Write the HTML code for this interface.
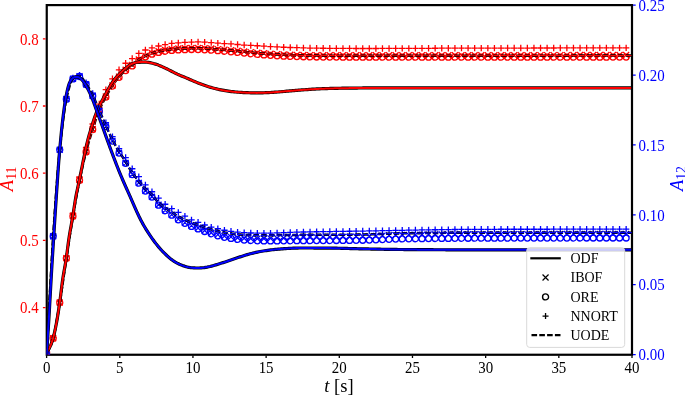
<!DOCTYPE html>
<html><head><meta charset="utf-8"><style>
html,body{margin:0;padding:0;background:#fff;}
body{width:685px;height:397px;overflow:hidden;font-family:"Liberation Serif",serif;}
svg{position:absolute;left:0;top:0;display:block;will-change:transform;}
</style></head><body>
<svg width="685" height="397" viewBox="0 0 685 397">
<defs><clipPath id="ax"><rect x="46.6" y="5.2" width="585.4" height="349.40000000000003"/></clipPath></defs>
<rect x="46.75" y="5.1" width="585.25" height="349.65" fill="none" stroke="#000" stroke-width="2.2"/>
<g clip-path="url(#ax)">
<path d="M43.60,349.39l6.00,6.00M43.60,355.39l6.00,-6.00 M50.19,335.29l6.00,6.00M50.19,341.29l6.00,-6.00 M56.77,299.55l6.00,6.00M56.77,305.55l6.00,-6.00 M63.36,255.10l6.00,6.00M63.36,261.10l6.00,-6.00 M69.94,213.00l6.00,6.00M69.94,219.00l6.00,-6.00 M76.53,177.06l6.00,6.00M76.53,183.06l6.00,-6.00 M83.11,148.58l6.00,6.00M83.11,154.58l6.00,-6.00 M89.70,126.07l6.00,6.00M89.70,132.07l6.00,-6.00 M96.29,107.03l6.00,6.00M96.29,113.03l6.00,-6.00 M102.87,93.54l6.00,6.00M102.87,99.54l6.00,-6.00 M109.46,82.50l6.00,6.00M109.46,88.50l6.00,-6.00 M116.04,73.64l6.00,6.00M116.04,79.64l6.00,-6.00 M122.63,66.79l6.00,6.00M122.63,72.79l6.00,-6.00 M129.21,62.08l6.00,6.00M129.21,68.08l6.00,-6.00 M135.80,56.44l6.00,6.00M135.80,62.44l6.00,-6.00 M142.39,52.86l6.00,6.00M142.39,58.86l6.00,-6.00 M148.97,50.13l6.00,6.00M148.97,56.13l6.00,-6.00 M155.56,48.27l6.00,6.00M155.56,54.27l6.00,-6.00 M162.14,47.03l6.00,6.00M162.14,53.03l6.00,-6.00 M168.73,46.17l6.00,6.00M168.73,52.17l6.00,-6.00 M175.31,45.52l6.00,6.00M175.31,51.52l6.00,-6.00 M181.90,45.19l6.00,6.00M181.90,51.19l6.00,-6.00 M188.49,44.99l6.00,6.00M188.49,50.99l6.00,-6.00 M195.07,44.99l6.00,6.00M195.07,50.99l6.00,-6.00 M201.66,45.18l6.00,6.00M201.66,51.18l6.00,-6.00 M208.24,45.58l6.00,6.00M208.24,51.58l6.00,-6.00 M214.83,46.10l6.00,6.00M214.83,52.10l6.00,-6.00 M221.42,46.63l6.00,6.00M221.42,52.63l6.00,-6.00 M228.00,47.20l6.00,6.00M228.00,53.20l6.00,-6.00 M234.59,47.79l6.00,6.00M234.59,53.79l6.00,-6.00 M241.17,48.44l6.00,6.00M241.17,54.44l6.00,-6.00 M247.76,49.11l6.00,6.00M247.76,55.11l6.00,-6.00 M254.34,49.71l6.00,6.00M254.34,55.71l6.00,-6.00 M260.93,50.20l6.00,6.00M260.93,56.20l6.00,-6.00 M267.52,50.67l6.00,6.00M267.52,56.67l6.00,-6.00 M274.10,51.10l6.00,6.00M274.10,57.10l6.00,-6.00 M280.69,51.45l6.00,6.00M280.69,57.45l6.00,-6.00 M287.27,51.68l6.00,6.00M287.27,57.68l6.00,-6.00 M293.86,51.85l6.00,6.00M293.86,57.85l6.00,-6.00 M300.44,52.00l6.00,6.00M300.44,58.00l6.00,-6.00 M307.03,52.13l6.00,6.00M307.03,58.13l6.00,-6.00 M313.62,52.23l6.00,6.00M313.62,58.23l6.00,-6.00 M320.20,52.29l6.00,6.00M320.20,58.29l6.00,-6.00 M326.79,52.32l6.00,6.00M326.79,58.32l6.00,-6.00 M333.37,52.32l6.00,6.00M333.37,58.32l6.00,-6.00 M339.96,52.32l6.00,6.00M339.96,58.32l6.00,-6.00 M346.54,52.32l6.00,6.00M346.54,58.32l6.00,-6.00 M353.13,52.32l6.00,6.00M353.13,58.32l6.00,-6.00 M359.72,52.32l6.00,6.00M359.72,58.32l6.00,-6.00 M366.30,52.32l6.00,6.00M366.30,58.32l6.00,-6.00 M372.89,52.32l6.00,6.00M372.89,58.32l6.00,-6.00 M379.47,52.32l6.00,6.00M379.47,58.32l6.00,-6.00 M386.06,52.32l6.00,6.00M386.06,58.32l6.00,-6.00 M392.64,52.32l6.00,6.00M392.64,58.32l6.00,-6.00 M399.23,52.32l6.00,6.00M399.23,58.32l6.00,-6.00 M405.82,52.32l6.00,6.00M405.82,58.32l6.00,-6.00 M412.40,52.32l6.00,6.00M412.40,58.32l6.00,-6.00 M418.99,52.32l6.00,6.00M418.99,58.32l6.00,-6.00 M425.57,52.31l6.00,6.00M425.57,58.31l6.00,-6.00 M432.16,52.31l6.00,6.00M432.16,58.31l6.00,-6.00 M438.75,52.31l6.00,6.00M438.75,58.31l6.00,-6.00 M445.33,52.30l6.00,6.00M445.33,58.30l6.00,-6.00 M451.92,52.29l6.00,6.00M451.92,58.29l6.00,-6.00 M458.50,52.29l6.00,6.00M458.50,58.29l6.00,-6.00 M465.09,52.28l6.00,6.00M465.09,58.28l6.00,-6.00 M471.67,52.27l6.00,6.00M471.67,58.27l6.00,-6.00 M478.26,52.26l6.00,6.00M478.26,58.26l6.00,-6.00 M484.85,52.25l6.00,6.00M484.85,58.25l6.00,-6.00 M491.43,52.24l6.00,6.00M491.43,58.24l6.00,-6.00 M498.02,52.23l6.00,6.00M498.02,58.23l6.00,-6.00 M504.60,52.22l6.00,6.00M504.60,58.22l6.00,-6.00 M511.19,52.21l6.00,6.00M511.19,58.21l6.00,-6.00 M517.77,52.20l6.00,6.00M517.77,58.20l6.00,-6.00 M524.36,52.18l6.00,6.00M524.36,58.18l6.00,-6.00 M530.95,52.17l6.00,6.00M530.95,58.17l6.00,-6.00 M537.53,52.15l6.00,6.00M537.53,58.15l6.00,-6.00 M544.12,52.14l6.00,6.00M544.12,58.14l6.00,-6.00 M550.70,52.12l6.00,6.00M550.70,58.12l6.00,-6.00 M557.29,52.11l6.00,6.00M557.29,58.11l6.00,-6.00 M563.87,52.09l6.00,6.00M563.87,58.09l6.00,-6.00 M570.46,52.07l6.00,6.00M570.46,58.07l6.00,-6.00 M577.05,52.06l6.00,6.00M577.05,58.06l6.00,-6.00 M583.63,52.04l6.00,6.00M583.63,58.04l6.00,-6.00 M590.22,52.02l6.00,6.00M590.22,58.02l6.00,-6.00 M596.80,52.00l6.00,6.00M596.80,58.00l6.00,-6.00 M603.39,51.98l6.00,6.00M603.39,57.98l6.00,-6.00 M609.97,51.96l6.00,6.00M609.97,57.96l6.00,-6.00 M616.56,51.94l6.00,6.00M616.56,57.94l6.00,-6.00 M623.15,51.92l6.00,6.00M623.15,57.92l6.00,-6.00" fill="none" stroke="#ff0000" stroke-width="1.3"/>
<path d="M43.60,352.40a3.0,3.0 0 1,0 6.00,0a3.0,3.0 0 1,0 -6.00,0 M50.19,338.35a3.0,3.0 0 1,0 6.00,0a3.0,3.0 0 1,0 -6.00,0 M56.77,302.67a3.0,3.0 0 1,0 6.00,0a3.0,3.0 0 1,0 -6.00,0 M63.36,258.28a3.0,3.0 0 1,0 6.00,0a3.0,3.0 0 1,0 -6.00,0 M69.94,216.25a3.0,3.0 0 1,0 6.00,0a3.0,3.0 0 1,0 -6.00,0 M76.53,180.36a3.0,3.0 0 1,0 6.00,0a3.0,3.0 0 1,0 -6.00,0 M83.11,151.94a3.0,3.0 0 1,0 6.00,0a3.0,3.0 0 1,0 -6.00,0 M89.70,129.50a3.0,3.0 0 1,0 6.00,0a3.0,3.0 0 1,0 -6.00,0 M96.29,110.53a3.0,3.0 0 1,0 6.00,0a3.0,3.0 0 1,0 -6.00,0 M102.87,97.12a3.0,3.0 0 1,0 6.00,0a3.0,3.0 0 1,0 -6.00,0 M109.46,86.14a3.0,3.0 0 1,0 6.00,0a3.0,3.0 0 1,0 -6.00,0 M116.04,77.36a3.0,3.0 0 1,0 6.00,0a3.0,3.0 0 1,0 -6.00,0 M122.63,70.58a3.0,3.0 0 1,0 6.00,0a3.0,3.0 0 1,0 -6.00,0 M129.21,65.94a3.0,3.0 0 1,0 6.00,0a3.0,3.0 0 1,0 -6.00,0 M135.80,60.37a3.0,3.0 0 1,0 6.00,0a3.0,3.0 0 1,0 -6.00,0 M142.39,56.87a3.0,3.0 0 1,0 6.00,0a3.0,3.0 0 1,0 -6.00,0 M148.97,54.21a3.0,3.0 0 1,0 6.00,0a3.0,3.0 0 1,0 -6.00,0 M155.56,52.42a3.0,3.0 0 1,0 6.00,0a3.0,3.0 0 1,0 -6.00,0 M162.14,51.25a3.0,3.0 0 1,0 6.00,0a3.0,3.0 0 1,0 -6.00,0 M168.73,50.46a3.0,3.0 0 1,0 6.00,0a3.0,3.0 0 1,0 -6.00,0 M175.31,49.88a3.0,3.0 0 1,0 6.00,0a3.0,3.0 0 1,0 -6.00,0 M181.90,49.65a3.0,3.0 0 1,0 6.00,0a3.0,3.0 0 1,0 -6.00,0 M188.49,49.52a3.0,3.0 0 1,0 6.00,0a3.0,3.0 0 1,0 -6.00,0 M195.07,49.54a3.0,3.0 0 1,0 6.00,0a3.0,3.0 0 1,0 -6.00,0 M201.66,49.79a3.0,3.0 0 1,0 6.00,0a3.0,3.0 0 1,0 -6.00,0 M208.24,50.20a3.0,3.0 0 1,0 6.00,0a3.0,3.0 0 1,0 -6.00,0 M214.83,50.72a3.0,3.0 0 1,0 6.00,0a3.0,3.0 0 1,0 -6.00,0 M221.42,51.26a3.0,3.0 0 1,0 6.00,0a3.0,3.0 0 1,0 -6.00,0 M228.00,51.84a3.0,3.0 0 1,0 6.00,0a3.0,3.0 0 1,0 -6.00,0 M234.59,52.44a3.0,3.0 0 1,0 6.00,0a3.0,3.0 0 1,0 -6.00,0 M241.17,53.10a3.0,3.0 0 1,0 6.00,0a3.0,3.0 0 1,0 -6.00,0 M247.76,53.78a3.0,3.0 0 1,0 6.00,0a3.0,3.0 0 1,0 -6.00,0 M254.34,54.39a3.0,3.0 0 1,0 6.00,0a3.0,3.0 0 1,0 -6.00,0 M260.93,54.89a3.0,3.0 0 1,0 6.00,0a3.0,3.0 0 1,0 -6.00,0 M267.52,55.37a3.0,3.0 0 1,0 6.00,0a3.0,3.0 0 1,0 -6.00,0 M274.10,55.81a3.0,3.0 0 1,0 6.00,0a3.0,3.0 0 1,0 -6.00,0 M280.69,56.16a3.0,3.0 0 1,0 6.00,0a3.0,3.0 0 1,0 -6.00,0 M287.27,56.41a3.0,3.0 0 1,0 6.00,0a3.0,3.0 0 1,0 -6.00,0 M293.86,56.58a3.0,3.0 0 1,0 6.00,0a3.0,3.0 0 1,0 -6.00,0 M300.44,56.74a3.0,3.0 0 1,0 6.00,0a3.0,3.0 0 1,0 -6.00,0 M307.03,56.88a3.0,3.0 0 1,0 6.00,0a3.0,3.0 0 1,0 -6.00,0 M313.62,56.98a3.0,3.0 0 1,0 6.00,0a3.0,3.0 0 1,0 -6.00,0 M320.20,57.06a3.0,3.0 0 1,0 6.00,0a3.0,3.0 0 1,0 -6.00,0 M326.79,57.10a3.0,3.0 0 1,0 6.00,0a3.0,3.0 0 1,0 -6.00,0 M333.37,57.12a3.0,3.0 0 1,0 6.00,0a3.0,3.0 0 1,0 -6.00,0 M339.96,57.13a3.0,3.0 0 1,0 6.00,0a3.0,3.0 0 1,0 -6.00,0 M346.54,57.15a3.0,3.0 0 1,0 6.00,0a3.0,3.0 0 1,0 -6.00,0 M353.13,57.16a3.0,3.0 0 1,0 6.00,0a3.0,3.0 0 1,0 -6.00,0 M359.72,57.17a3.0,3.0 0 1,0 6.00,0a3.0,3.0 0 1,0 -6.00,0 M366.30,57.18a3.0,3.0 0 1,0 6.00,0a3.0,3.0 0 1,0 -6.00,0 M372.89,57.19a3.0,3.0 0 1,0 6.00,0a3.0,3.0 0 1,0 -6.00,0 M379.47,57.19a3.0,3.0 0 1,0 6.00,0a3.0,3.0 0 1,0 -6.00,0 M386.06,57.20a3.0,3.0 0 1,0 6.00,0a3.0,3.0 0 1,0 -6.00,0 M392.64,57.20a3.0,3.0 0 1,0 6.00,0a3.0,3.0 0 1,0 -6.00,0 M399.23,57.20a3.0,3.0 0 1,0 6.00,0a3.0,3.0 0 1,0 -6.00,0 M405.82,57.20a3.0,3.0 0 1,0 6.00,0a3.0,3.0 0 1,0 -6.00,0 M412.40,57.20a3.0,3.0 0 1,0 6.00,0a3.0,3.0 0 1,0 -6.00,0 M418.99,57.20a3.0,3.0 0 1,0 6.00,0a3.0,3.0 0 1,0 -6.00,0 M425.57,57.20a3.0,3.0 0 1,0 6.00,0a3.0,3.0 0 1,0 -6.00,0 M432.16,57.20a3.0,3.0 0 1,0 6.00,0a3.0,3.0 0 1,0 -6.00,0 M438.75,57.20a3.0,3.0 0 1,0 6.00,0a3.0,3.0 0 1,0 -6.00,0 M445.33,57.20a3.0,3.0 0 1,0 6.00,0a3.0,3.0 0 1,0 -6.00,0 M451.92,57.20a3.0,3.0 0 1,0 6.00,0a3.0,3.0 0 1,0 -6.00,0 M458.50,57.20a3.0,3.0 0 1,0 6.00,0a3.0,3.0 0 1,0 -6.00,0 M465.09,57.20a3.0,3.0 0 1,0 6.00,0a3.0,3.0 0 1,0 -6.00,0 M471.67,57.20a3.0,3.0 0 1,0 6.00,0a3.0,3.0 0 1,0 -6.00,0 M478.26,57.20a3.0,3.0 0 1,0 6.00,0a3.0,3.0 0 1,0 -6.00,0 M484.85,57.19a3.0,3.0 0 1,0 6.00,0a3.0,3.0 0 1,0 -6.00,0 M491.43,57.19a3.0,3.0 0 1,0 6.00,0a3.0,3.0 0 1,0 -6.00,0 M498.02,57.19a3.0,3.0 0 1,0 6.00,0a3.0,3.0 0 1,0 -6.00,0 M504.60,57.19a3.0,3.0 0 1,0 6.00,0a3.0,3.0 0 1,0 -6.00,0 M511.19,57.19a3.0,3.0 0 1,0 6.00,0a3.0,3.0 0 1,0 -6.00,0 M517.77,57.19a3.0,3.0 0 1,0 6.00,0a3.0,3.0 0 1,0 -6.00,0 M524.36,57.18a3.0,3.0 0 1,0 6.00,0a3.0,3.0 0 1,0 -6.00,0 M530.95,57.18a3.0,3.0 0 1,0 6.00,0a3.0,3.0 0 1,0 -6.00,0 M537.53,57.18a3.0,3.0 0 1,0 6.00,0a3.0,3.0 0 1,0 -6.00,0 M544.12,57.17a3.0,3.0 0 1,0 6.00,0a3.0,3.0 0 1,0 -6.00,0 M550.70,57.17a3.0,3.0 0 1,0 6.00,0a3.0,3.0 0 1,0 -6.00,0 M557.29,57.17a3.0,3.0 0 1,0 6.00,0a3.0,3.0 0 1,0 -6.00,0 M563.87,57.16a3.0,3.0 0 1,0 6.00,0a3.0,3.0 0 1,0 -6.00,0 M570.46,57.16a3.0,3.0 0 1,0 6.00,0a3.0,3.0 0 1,0 -6.00,0 M577.05,57.15a3.0,3.0 0 1,0 6.00,0a3.0,3.0 0 1,0 -6.00,0 M583.63,57.15a3.0,3.0 0 1,0 6.00,0a3.0,3.0 0 1,0 -6.00,0 M590.22,57.14a3.0,3.0 0 1,0 6.00,0a3.0,3.0 0 1,0 -6.00,0 M596.80,57.14a3.0,3.0 0 1,0 6.00,0a3.0,3.0 0 1,0 -6.00,0 M603.39,57.13a3.0,3.0 0 1,0 6.00,0a3.0,3.0 0 1,0 -6.00,0 M609.97,57.12a3.0,3.0 0 1,0 6.00,0a3.0,3.0 0 1,0 -6.00,0 M616.56,57.12a3.0,3.0 0 1,0 6.00,0a3.0,3.0 0 1,0 -6.00,0 M623.15,57.11a3.0,3.0 0 1,0 6.00,0a3.0,3.0 0 1,0 -6.00,0" fill="none" stroke="#ff0000" stroke-width="1.3"/>
<path d="M43.40,352.40h6.40M46.60,349.20v6.40 M49.99,337.55h6.40M53.19,334.35v6.40 M56.57,301.17h6.40M59.77,297.97v6.40 M63.16,256.29h6.40M66.36,253.09v6.40 M69.74,213.24h6.40M72.94,210.04v6.40 M76.33,176.86h6.40M79.53,173.66v6.40 M82.91,147.44h6.40M86.11,144.24v6.40 M89.50,124.00h6.40M92.70,120.80v6.40 M96.09,104.04h6.40M99.29,100.84v6.40 M102.67,89.65h6.40M105.87,86.45v6.40 M109.26,78.78h6.40M112.46,75.58v6.40 M115.84,69.79h6.40M119.04,66.59v6.40 M122.43,63.23h6.40M125.63,60.03v6.40 M129.01,58.54h6.40M132.21,55.34v6.40 M135.60,53.47h6.40M138.80,50.27v6.40 M142.19,49.99h6.40M145.39,46.79v6.40 M148.77,47.95h6.40M151.97,44.75v6.40 M155.36,45.98h6.40M158.56,42.78v6.40 M161.94,44.53h6.40M165.14,41.33v6.40 M168.53,43.45h6.40M171.73,40.25v6.40 M175.12,42.87h6.40M178.31,39.67v6.40 M181.70,42.29h6.40M184.90,39.09v6.40 M188.29,42.10h6.40M191.49,38.90v6.40 M194.87,41.95h6.40M198.07,38.75v6.40 M201.46,42.11h6.40M204.66,38.91v6.40 M208.04,42.63h6.40M211.24,39.43v6.40 M214.63,43.11h6.40M217.83,39.91v6.40 M221.22,43.53h6.40M224.42,40.33v6.40 M227.80,43.97h6.40M231.00,40.77v6.40 M234.39,44.52h6.40M237.59,41.32v6.40 M240.97,45.05h6.40M244.17,41.85v6.40 M247.56,45.43h6.40M250.76,42.23v6.40 M254.14,45.76h6.40M257.34,42.56v6.40 M260.73,46.13h6.40M263.93,42.93v6.40 M267.32,46.53h6.40M270.52,43.33v6.40 M273.90,46.93h6.40M277.10,43.73v6.40 M280.49,47.25h6.40M283.69,44.05v6.40 M287.07,47.48h6.40M290.27,44.28v6.40 M293.66,47.70h6.40M296.86,44.50v6.40 M300.24,47.88h6.40M303.44,44.68v6.40 M306.83,48.04h6.40M310.03,44.84v6.40 M313.42,48.16h6.40M316.62,44.96v6.40 M320.00,48.23h6.40M323.20,45.03v6.40 M326.59,48.30h6.40M329.79,45.10v6.40 M333.17,48.36h6.40M336.37,45.16v6.40 M339.76,48.41h6.40M342.96,45.21v6.40 M346.34,48.46h6.40M349.54,45.26v6.40 M352.93,48.48h6.40M356.13,45.28v6.40 M359.52,48.50h6.40M362.72,45.30v6.40 M366.10,48.50h6.40M369.30,45.30v6.40 M372.69,48.49h6.40M375.89,45.29v6.40 M379.27,48.47h6.40M382.47,45.27v6.40 M385.86,48.45h6.40M389.06,45.25v6.40 M392.44,48.43h6.40M395.64,45.23v6.40 M399.03,48.40h6.40M402.23,45.20v6.40 M405.62,48.37h6.40M408.82,45.17v6.40 M412.20,48.34h6.40M415.40,45.14v6.40 M418.79,48.31h6.40M421.99,45.11v6.40 M425.37,48.28h6.40M428.57,45.08v6.40 M431.96,48.25h6.40M435.16,45.05v6.40 M438.55,48.22h6.40M441.75,45.02v6.40 M445.13,48.20h6.40M448.33,45.00v6.40 M451.72,48.19h6.40M454.92,44.99v6.40 M458.30,48.17h6.40M461.50,44.97v6.40 M464.89,48.16h6.40M468.09,44.96v6.40 M471.47,48.14h6.40M474.67,44.94v6.40 M478.06,48.13h6.40M481.26,44.93v6.40 M484.65,48.11h6.40M487.85,44.91v6.40 M491.23,48.10h6.40M494.43,44.90v6.40 M497.82,48.08h6.40M501.02,44.88v6.40 M504.40,48.07h6.40M507.60,44.87v6.40 M510.99,48.06h6.40M514.19,44.86v6.40 M517.57,48.04h6.40M520.77,44.84v6.40 M524.16,48.03h6.40M527.36,44.83v6.40 M530.75,48.02h6.40M533.95,44.82v6.40 M537.33,48.01h6.40M540.53,44.81v6.40 M543.92,47.99h6.40M547.12,44.79v6.40 M550.50,47.98h6.40M553.70,44.78v6.40 M557.09,47.97h6.40M560.29,44.77v6.40 M563.67,47.96h6.40M566.87,44.76v6.40 M570.26,47.95h6.40M573.46,44.75v6.40 M576.85,47.94h6.40M580.05,44.74v6.40 M583.43,47.94h6.40M586.63,44.74v6.40 M590.02,47.93h6.40M593.22,44.73v6.40 M596.60,47.92h6.40M599.80,44.72v6.40 M603.19,47.92h6.40M606.39,44.72v6.40 M609.77,47.91h6.40M612.97,44.71v6.40 M616.36,47.91h6.40M619.56,44.71v6.40 M622.95,47.90h6.40M626.15,44.70v6.40" fill="none" stroke="#ff0000" stroke-width="1.3"/>
<path d="M46.6,352.39 L47.6,351.31 L48.6,349.83 L49.6,348.04 L50.6,345.97 L51.6,343.38 L52.6,340.30 L53.6,336.73 L54.6,332.39 L55.6,327.34 L56.6,321.75 L57.6,315.82 L58.6,309.70 L59.6,303.58 L60.6,297.41 L61.6,290.85 L62.6,284.02 L63.6,277.05 L64.6,270.05 L65.6,263.16 L66.6,256.50 L67.6,249.91 L68.6,243.33 L69.6,236.81 L70.6,230.39 L71.6,224.11 L72.6,218.03 L73.6,212.15 L74.6,206.36 L75.6,200.68 L76.6,195.16 L77.6,189.80 L78.6,184.64 L79.6,179.71 L80.6,174.97 L81.6,170.39 L82.6,165.95 L83.6,161.67 L84.6,157.54 L85.6,153.56 L86.6,149.75 L87.6,146.07 L88.6,142.53 L89.6,139.11 L90.6,135.79 L91.6,132.56 L92.6,129.39 L93.6,126.26 L94.6,123.16 L95.6,120.13 L96.6,117.19 L97.6,114.38 L98.6,111.75 L99.6,109.31 L100.6,107.04 L101.6,104.87 L102.6,102.82 L103.6,100.84 L104.6,98.94 L105.6,97.08 L106.6,95.26 L107.6,93.48 L108.6,91.75 L109.6,90.07 L110.6,88.44 L111.6,86.86 L112.6,85.35 L113.6,83.89 L114.6,82.47 L115.6,81.09 L116.6,79.76 L117.6,78.48 L118.6,77.25 L119.6,76.07 L120.6,74.94 L121.6,73.85 L122.6,72.79 L123.6,71.78 L124.6,70.82 L125.6,69.91 L126.6,69.08 L127.6,68.33 L128.6,67.63 L129.6,66.97 L130.6,66.31 L131.6,65.63 L132.6,64.90 L133.6,64.09 L134.6,63.18 L135.6,62.24 L136.6,61.32 L137.6,60.45 L138.6,59.70 L139.6,59.05 L140.6,58.46 L141.6,57.90 L142.6,57.37 L143.6,56.87 L144.6,56.39 L145.6,55.91 L146.6,55.45 L147.6,55.01 L148.6,54.58 L149.6,54.17 L150.6,53.79 L151.6,53.43 L152.6,53.10 L153.6,52.78 L154.6,52.48 L155.6,52.20 L156.6,51.93 L157.6,51.68 L158.6,51.45 L159.6,51.23 L160.6,51.03 L161.6,50.84 L162.6,50.65 L163.6,50.48 L164.6,50.32 L165.6,50.17 L166.6,50.02 L167.6,49.88 L168.6,49.75 L169.6,49.63 L170.6,49.51 L171.6,49.40 L172.6,49.30 L173.6,49.19 L174.6,49.09 L175.6,48.99 L176.6,48.90 L177.6,48.81 L178.6,48.74 L179.6,48.68 L180.6,48.64 L181.6,48.59 L182.6,48.55 L183.6,48.51 L184.6,48.47 L185.6,48.43 L186.6,48.40 L187.6,48.37 L188.6,48.34 L189.6,48.31 L190.6,48.29 L191.6,48.27 L192.6,48.26 L193.6,48.25 L194.6,48.24 L195.6,48.24 L196.6,48.25 L197.6,48.27 L198.6,48.29 L199.6,48.31 L200.6,48.34 L201.6,48.37 L202.6,48.41 L203.6,48.44 L204.6,48.48 L205.6,48.52 L206.6,48.57 L207.6,48.63 L208.6,48.69 L209.6,48.77 L210.6,48.84 L211.6,48.92 L212.6,49.00 L213.6,49.08 L214.6,49.16 L215.6,49.23 L216.6,49.31 L217.6,49.39 L218.6,49.47 L219.6,49.55 L220.6,49.63 L221.6,49.71 L222.6,49.79 L223.6,49.88 L224.6,49.96 L225.6,50.05 L226.6,50.13 L227.6,50.22 L228.6,50.31 L229.6,50.40 L230.6,50.48 L231.6,50.57 L232.6,50.66 L233.6,50.75 L234.6,50.84 L235.6,50.93 L236.6,51.02 L237.6,51.12 L238.6,51.21 L239.6,51.31 L240.6,51.41 L241.6,51.51 L242.6,51.61 L243.6,51.72 L244.6,51.82 L245.6,51.92 L246.6,52.02 L247.6,52.13 L248.6,52.23 L249.6,52.33 L250.6,52.43 L251.6,52.53 L252.6,52.62 L253.6,52.72 L254.6,52.81 L255.6,52.90 L256.6,52.99 L257.6,53.07 L258.6,53.15 L259.6,53.23 L260.6,53.30 L261.6,53.38 L262.6,53.45 L263.6,53.52 L264.6,53.60 L265.6,53.67 L266.6,53.74 L267.6,53.82 L268.6,53.89 L269.6,53.96 L270.6,54.03 L271.6,54.10 L272.6,54.17 L273.6,54.23 L274.6,54.30 L275.6,54.36 L276.6,54.42 L277.6,54.48 L278.6,54.54 L279.6,54.60 L280.6,54.65 L281.6,54.70 L282.6,54.75 L283.6,54.80 L284.6,54.85 L285.6,54.89 L286.6,54.93 L287.6,54.96 L288.6,55.00 L289.6,55.03 L290.6,55.05 L291.6,55.08 L292.6,55.11 L293.6,55.13 L294.6,55.16 L295.6,55.18 L296.6,55.21 L297.6,55.23 L298.6,55.26 L299.6,55.28 L300.6,55.31 L301.6,55.33 L302.6,55.35 L303.6,55.37 L304.6,55.39 L305.6,55.41 L306.6,55.44 L307.6,55.46 L308.6,55.47 L309.6,55.49 L310.6,55.51 L311.6,55.53 L312.6,55.55 L313.6,55.56 L314.6,55.58 L315.6,55.59 L316.6,55.61 L317.6,55.62 L318.6,55.63 L319.6,55.64 L320.6,55.65 L321.6,55.66 L322.6,55.67 L323.6,55.68 L324.6,55.69 L325.6,55.69 L326.6,55.70 L327.6,55.70 L328.6,55.71 L329.6,55.71 L330.6,55.71 L331.6,55.71 L332.6,55.71 L333.6,55.72 L334.6,55.72 L335.6,55.72 L336.6,55.72 L337.6,55.72 L338.6,55.72 L339.6,55.72 L340.6,55.72 L341.6,55.73 L342.6,55.73 L343.6,55.73 L344.6,55.73 L345.6,55.73 L346.6,55.73 L347.6,55.73 L348.6,55.73 L349.6,55.74 L350.6,55.74 L351.6,55.74 L352.6,55.74 L353.6,55.74 L354.6,55.74 L355.6,55.74 L356.6,55.74 L357.6,55.74 L358.6,55.74 L359.6,55.74 L360.6,55.75 L361.6,55.75 L362.6,55.75 L363.6,55.75 L364.6,55.75 L365.6,55.75 L366.6,55.75 L367.6,55.75 L368.6,55.75 L369.6,55.75 L370.6,55.75 L371.6,55.75 L372.6,55.75 L373.6,55.75 L374.6,55.75 L375.6,55.76 L376.6,55.76 L377.6,55.76 L378.6,55.76 L379.6,55.76 L380.6,55.76 L381.6,55.76 L382.6,55.76 L383.6,55.76 L384.6,55.76 L385.6,55.76 L386.6,55.76 L387.6,55.76 L388.6,55.76 L389.6,55.76 L390.6,55.76 L391.6,55.76 L392.6,55.76 L393.6,55.76 L394.6,55.76 L395.6,55.76 L396.6,55.76 L397.6,55.76 L398.6,55.76 L399.6,55.76 L400.6,55.76 L401.6,55.76 L402.6,55.76 L403.6,55.76 L404.6,55.76 L405.6,55.76 L406.6,55.76 L407.6,55.76 L408.6,55.76 L409.6,55.76 L410.6,55.76 L411.6,55.76 L412.6,55.76 L413.6,55.76 L414.6,55.76 L415.6,55.76 L416.6,55.76 L417.6,55.76 L418.6,55.76 L419.6,55.76 L420.6,55.76 L421.6,55.76 L422.6,55.76 L423.6,55.76 L424.6,55.76 L425.6,55.76 L426.6,55.76 L427.6,55.76 L428.6,55.76 L429.6,55.76 L430.6,55.76 L431.6,55.76 L432.6,55.76 L433.6,55.76 L434.6,55.76 L435.6,55.76 L436.6,55.76 L437.6,55.76 L438.6,55.76 L439.6,55.76 L440.6,55.75 L441.6,55.75 L442.6,55.75 L443.6,55.75 L444.6,55.75 L445.6,55.75 L446.6,55.75 L447.6,55.75 L448.6,55.75 L449.6,55.75 L450.6,55.75 L451.6,55.75 L452.6,55.75 L453.6,55.75 L454.6,55.75 L455.6,55.75 L456.6,55.75 L457.6,55.75 L458.6,55.75 L459.6,55.75 L460.6,55.75 L461.6,55.75 L462.6,55.75 L463.6,55.75 L464.6,55.74 L465.6,55.74 L466.6,55.74 L467.6,55.74 L468.6,55.74 L469.6,55.74 L470.6,55.74 L471.6,55.74 L472.6,55.74 L473.6,55.74 L474.6,55.74 L475.6,55.74 L476.6,55.74 L477.6,55.74 L478.6,55.74 L479.6,55.74 L480.6,55.74 L481.6,55.73 L482.6,55.73 L483.6,55.73 L484.6,55.73 L485.6,55.73 L486.6,55.73 L487.6,55.73 L488.6,55.73 L489.6,55.73 L490.6,55.73 L491.6,55.73 L492.6,55.73 L493.6,55.73 L494.6,55.72 L495.6,55.72 L496.6,55.72 L497.6,55.72 L498.6,55.72 L499.6,55.72 L500.6,55.72 L501.6,55.72 L502.6,55.72 L503.6,55.72 L504.6,55.72 L505.6,55.71 L506.6,55.71 L507.6,55.71 L508.6,55.71 L509.6,55.71 L510.6,55.71 L511.6,55.71 L512.6,55.71 L513.6,55.71 L514.6,55.71 L515.6,55.71 L516.6,55.70 L517.6,55.70 L518.6,55.70 L519.6,55.70 L520.6,55.70 L521.6,55.70 L522.6,55.70 L523.6,55.70 L524.6,55.70 L525.6,55.69 L526.6,55.69 L527.6,55.69 L528.6,55.69 L529.6,55.69 L530.6,55.69 L531.6,55.69 L532.6,55.69 L533.6,55.68 L534.6,55.68 L535.6,55.68 L536.6,55.68 L537.6,55.68 L538.6,55.68 L539.6,55.68 L540.6,55.68 L541.6,55.67 L542.6,55.67 L543.6,55.67 L544.6,55.67 L545.6,55.67 L546.6,55.67 L547.6,55.67 L548.6,55.66 L549.6,55.66 L550.6,55.66 L551.6,55.66 L552.6,55.66 L553.6,55.66 L554.6,55.66 L555.6,55.65 L556.6,55.65 L557.6,55.65 L558.6,55.65 L559.6,55.65 L560.6,55.65 L561.6,55.64 L562.6,55.64 L563.6,55.64 L564.6,55.64 L565.6,55.64 L566.6,55.64 L567.6,55.64 L568.6,55.63 L569.6,55.63 L570.6,55.63 L571.6,55.63 L572.6,55.63 L573.6,55.62 L574.6,55.62 L575.6,55.62 L576.6,55.62 L577.6,55.62 L578.6,55.62 L579.6,55.61 L580.6,55.61 L581.6,55.61 L582.6,55.61 L583.6,55.61 L584.6,55.60 L585.6,55.60 L586.6,55.60 L587.6,55.60 L588.6,55.60 L589.6,55.60 L590.6,55.59 L591.6,55.59 L592.6,55.59 L593.6,55.59 L594.6,55.59 L595.6,55.58 L596.6,55.58 L597.6,55.58 L598.6,55.58 L599.6,55.58 L600.6,55.57 L601.6,55.57 L602.6,55.57 L603.6,55.57 L604.6,55.56 L605.6,55.56 L606.6,55.56 L607.6,55.56 L608.6,55.56 L609.6,55.55 L610.6,55.55 L611.6,55.55 L612.6,55.55 L613.6,55.54 L614.6,55.54 L615.6,55.54 L616.6,55.54 L617.6,55.54 L618.6,55.53 L619.6,55.53 L620.6,55.53 L621.6,55.53 L622.6,55.52 L623.6,55.52 L624.6,55.52 L625.6,55.52 L626.6,55.51 L627.6,55.51 L628.6,55.51 L629.6,55.51 L630.6,55.50 L631.6,55.50" fill="none" stroke="#000" stroke-width="2.5" stroke-dasharray="5.5,2.3"/>
<path d="M46.6,352.39 L47.6,351.31 L48.6,349.83 L49.6,348.04 L50.6,345.97 L51.6,343.38 L52.6,340.30 L53.6,336.73 L54.6,332.39 L55.6,327.34 L56.6,321.75 L57.6,315.82 L58.6,309.70 L59.6,303.58 L60.6,297.41 L61.6,290.85 L62.6,284.02 L63.6,277.05 L64.6,270.05 L65.6,263.16 L66.6,256.50 L67.6,249.91 L68.6,243.33 L69.6,236.81 L70.6,230.39 L71.6,224.11 L72.6,218.03 L73.6,212.15 L74.6,206.36 L75.6,200.68 L76.6,195.16 L77.6,189.80 L78.6,184.64 L79.6,179.71 L80.6,174.97 L81.6,170.39 L82.6,165.95 L83.6,161.67 L84.6,157.54 L85.6,153.56 L86.6,149.75 L87.6,146.07 L88.6,142.53 L89.6,139.11 L90.6,135.79 L91.6,132.56 L92.6,129.39 L93.6,126.26 L94.6,123.16 L95.6,120.13 L96.6,117.19 L97.6,114.38 L98.6,111.75 L99.6,109.31 L100.6,107.04 L101.6,104.87 L102.6,102.82 L103.6,100.84 L104.6,98.94 L105.6,97.08 L106.6,95.26 L107.6,93.48 L108.6,91.75 L109.6,90.07 L110.6,88.44 L111.6,86.86 L112.6,85.35 L113.6,83.89 L114.6,82.47 L115.6,81.09 L116.6,79.76 L117.6,78.48 L118.6,77.25 L119.6,76.07 L120.6,74.94 L121.6,73.85 L122.6,72.79 L123.6,71.78 L124.6,70.82 L125.6,69.91 L126.6,69.08 L127.6,68.33 L128.6,67.63 L129.6,66.97 L130.6,66.31 L131.6,65.63 L132.6,64.90 L133.6,64.09 L134.6,63.18 L135.6,62.24 L136.6,61.32 L137.6,60.45 L138.6,59.70 L139.6,59.05 L140.6,58.46 L141.6,57.90 L142.6,57.37 L143.6,56.87 L144.6,56.39 L145.6,55.91 L146.6,55.45 L147.6,55.01 L148.6,54.58 L149.6,54.17 L150.6,53.79 L151.6,53.43 L152.6,53.10 L153.6,52.78 L154.6,52.48 L155.6,52.20 L156.6,51.93 L157.6,51.68 L158.6,51.45 L159.6,51.23 L160.6,51.03 L161.6,50.84 L162.6,50.65 L163.6,50.48 L164.6,50.32 L165.6,50.17 L166.6,50.02 L167.6,49.88 L168.6,49.75 L169.6,49.63 L170.6,49.51 L171.6,49.40 L172.6,49.30 L173.6,49.19 L174.6,49.09 L175.6,48.99 L176.6,48.90 L177.6,48.81 L178.6,48.74 L179.6,48.68 L180.6,48.64 L181.6,48.59 L182.6,48.55 L183.6,48.51 L184.6,48.47 L185.6,48.43 L186.6,48.40 L187.6,48.37 L188.6,48.34 L189.6,48.31 L190.6,48.29 L191.6,48.27 L192.6,48.26 L193.6,48.25 L194.6,48.24 L195.6,48.24 L196.6,48.25 L197.6,48.27 L198.6,48.29 L199.6,48.31 L200.6,48.34 L201.6,48.37 L202.6,48.41 L203.6,48.44 L204.6,48.48 L205.6,48.52 L206.6,48.57 L207.6,48.63 L208.6,48.69 L209.6,48.77 L210.6,48.84 L211.6,48.92 L212.6,49.00 L213.6,49.08 L214.6,49.16 L215.6,49.23 L216.6,49.31 L217.6,49.39 L218.6,49.47 L219.6,49.55 L220.6,49.63 L221.6,49.71 L222.6,49.79 L223.6,49.88 L224.6,49.96 L225.6,50.05 L226.6,50.13 L227.6,50.22 L228.6,50.31 L229.6,50.40 L230.6,50.48 L231.6,50.57 L232.6,50.66 L233.6,50.75 L234.6,50.84 L235.6,50.93 L236.6,51.02 L237.6,51.12 L238.6,51.21 L239.6,51.31 L240.6,51.41 L241.6,51.51 L242.6,51.61 L243.6,51.72 L244.6,51.82 L245.6,51.92 L246.6,52.02 L247.6,52.13 L248.6,52.23 L249.6,52.33 L250.6,52.43 L251.6,52.53 L252.6,52.62 L253.6,52.72 L254.6,52.81 L255.6,52.90 L256.6,52.99 L257.6,53.07 L258.6,53.15 L259.6,53.23 L260.6,53.30 L261.6,53.38 L262.6,53.45 L263.6,53.52 L264.6,53.60 L265.6,53.67 L266.6,53.74 L267.6,53.82 L268.6,53.89 L269.6,53.96 L270.6,54.03 L271.6,54.10 L272.6,54.17 L273.6,54.23 L274.6,54.30 L275.6,54.36 L276.6,54.42 L277.6,54.48 L278.6,54.54 L279.6,54.60 L280.6,54.65 L281.6,54.70 L282.6,54.75 L283.6,54.80 L284.6,54.85 L285.6,54.89 L286.6,54.93 L287.6,54.96 L288.6,55.00 L289.6,55.03 L290.6,55.05 L291.6,55.08 L292.6,55.11 L293.6,55.13 L294.6,55.16 L295.6,55.18 L296.6,55.21 L297.6,55.23 L298.6,55.26 L299.6,55.28 L300.6,55.31 L301.6,55.33 L302.6,55.35 L303.6,55.37 L304.6,55.39 L305.6,55.41 L306.6,55.44 L307.6,55.46 L308.6,55.47 L309.6,55.49 L310.6,55.51 L311.6,55.53 L312.6,55.55 L313.6,55.56 L314.6,55.58 L315.6,55.59 L316.6,55.61 L317.6,55.62 L318.6,55.63 L319.6,55.64 L320.6,55.65 L321.6,55.66 L322.6,55.67 L323.6,55.68 L324.6,55.69 L325.6,55.69 L326.6,55.70 L327.6,55.70 L328.6,55.71 L329.6,55.71 L330.6,55.71 L331.6,55.71 L332.6,55.71 L333.6,55.72 L334.6,55.72 L335.6,55.72 L336.6,55.72 L337.6,55.72 L338.6,55.72 L339.6,55.72 L340.6,55.72 L341.6,55.73 L342.6,55.73 L343.6,55.73 L344.6,55.73 L345.6,55.73 L346.6,55.73 L347.6,55.73 L348.6,55.73 L349.6,55.74 L350.6,55.74 L351.6,55.74 L352.6,55.74 L353.6,55.74 L354.6,55.74 L355.6,55.74 L356.6,55.74 L357.6,55.74 L358.6,55.74 L359.6,55.74 L360.6,55.75 L361.6,55.75 L362.6,55.75 L363.6,55.75 L364.6,55.75 L365.6,55.75 L366.6,55.75 L367.6,55.75 L368.6,55.75 L369.6,55.75 L370.6,55.75 L371.6,55.75 L372.6,55.75 L373.6,55.75 L374.6,55.75 L375.6,55.76 L376.6,55.76 L377.6,55.76 L378.6,55.76 L379.6,55.76 L380.6,55.76 L381.6,55.76 L382.6,55.76 L383.6,55.76 L384.6,55.76 L385.6,55.76 L386.6,55.76 L387.6,55.76 L388.6,55.76 L389.6,55.76 L390.6,55.76 L391.6,55.76 L392.6,55.76 L393.6,55.76 L394.6,55.76 L395.6,55.76 L396.6,55.76 L397.6,55.76 L398.6,55.76 L399.6,55.76 L400.6,55.76 L401.6,55.76 L402.6,55.76 L403.6,55.76 L404.6,55.76 L405.6,55.76 L406.6,55.76 L407.6,55.76 L408.6,55.76 L409.6,55.76 L410.6,55.76 L411.6,55.76 L412.6,55.76 L413.6,55.76 L414.6,55.76 L415.6,55.76 L416.6,55.76 L417.6,55.76 L418.6,55.76 L419.6,55.76 L420.6,55.76 L421.6,55.76 L422.6,55.76 L423.6,55.76 L424.6,55.76 L425.6,55.76 L426.6,55.76 L427.6,55.76 L428.6,55.76 L429.6,55.76 L430.6,55.76 L431.6,55.76 L432.6,55.76 L433.6,55.76 L434.6,55.76 L435.6,55.76 L436.6,55.76 L437.6,55.76 L438.6,55.76 L439.6,55.76 L440.6,55.75 L441.6,55.75 L442.6,55.75 L443.6,55.75 L444.6,55.75 L445.6,55.75 L446.6,55.75 L447.6,55.75 L448.6,55.75 L449.6,55.75 L450.6,55.75 L451.6,55.75 L452.6,55.75 L453.6,55.75 L454.6,55.75 L455.6,55.75 L456.6,55.75 L457.6,55.75 L458.6,55.75 L459.6,55.75 L460.6,55.75 L461.6,55.75 L462.6,55.75 L463.6,55.75 L464.6,55.74 L465.6,55.74 L466.6,55.74 L467.6,55.74 L468.6,55.74 L469.6,55.74 L470.6,55.74 L471.6,55.74 L472.6,55.74 L473.6,55.74 L474.6,55.74 L475.6,55.74 L476.6,55.74 L477.6,55.74 L478.6,55.74 L479.6,55.74 L480.6,55.74 L481.6,55.73 L482.6,55.73 L483.6,55.73 L484.6,55.73 L485.6,55.73 L486.6,55.73 L487.6,55.73 L488.6,55.73 L489.6,55.73 L490.6,55.73 L491.6,55.73 L492.6,55.73 L493.6,55.73 L494.6,55.72 L495.6,55.72 L496.6,55.72 L497.6,55.72 L498.6,55.72 L499.6,55.72 L500.6,55.72 L501.6,55.72 L502.6,55.72 L503.6,55.72 L504.6,55.72 L505.6,55.71 L506.6,55.71 L507.6,55.71 L508.6,55.71 L509.6,55.71 L510.6,55.71 L511.6,55.71 L512.6,55.71 L513.6,55.71 L514.6,55.71 L515.6,55.71 L516.6,55.70 L517.6,55.70 L518.6,55.70 L519.6,55.70 L520.6,55.70 L521.6,55.70 L522.6,55.70 L523.6,55.70 L524.6,55.70 L525.6,55.69 L526.6,55.69 L527.6,55.69 L528.6,55.69 L529.6,55.69 L530.6,55.69 L531.6,55.69 L532.6,55.69 L533.6,55.68 L534.6,55.68 L535.6,55.68 L536.6,55.68 L537.6,55.68 L538.6,55.68 L539.6,55.68 L540.6,55.68 L541.6,55.67 L542.6,55.67 L543.6,55.67 L544.6,55.67 L545.6,55.67 L546.6,55.67 L547.6,55.67 L548.6,55.66 L549.6,55.66 L550.6,55.66 L551.6,55.66 L552.6,55.66 L553.6,55.66 L554.6,55.66 L555.6,55.65 L556.6,55.65 L557.6,55.65 L558.6,55.65 L559.6,55.65 L560.6,55.65 L561.6,55.64 L562.6,55.64 L563.6,55.64 L564.6,55.64 L565.6,55.64 L566.6,55.64 L567.6,55.64 L568.6,55.63 L569.6,55.63 L570.6,55.63 L571.6,55.63 L572.6,55.63 L573.6,55.62 L574.6,55.62 L575.6,55.62 L576.6,55.62 L577.6,55.62 L578.6,55.62 L579.6,55.61 L580.6,55.61 L581.6,55.61 L582.6,55.61 L583.6,55.61 L584.6,55.60 L585.6,55.60 L586.6,55.60 L587.6,55.60 L588.6,55.60 L589.6,55.60 L590.6,55.59 L591.6,55.59 L592.6,55.59 L593.6,55.59 L594.6,55.59 L595.6,55.58 L596.6,55.58 L597.6,55.58 L598.6,55.58 L599.6,55.58 L600.6,55.57 L601.6,55.57 L602.6,55.57 L603.6,55.57 L604.6,55.56 L605.6,55.56 L606.6,55.56 L607.6,55.56 L608.6,55.56 L609.6,55.55 L610.6,55.55 L611.6,55.55 L612.6,55.55 L613.6,55.54 L614.6,55.54 L615.6,55.54 L616.6,55.54 L617.6,55.54 L618.6,55.53 L619.6,55.53 L620.6,55.53 L621.6,55.53 L622.6,55.52 L623.6,55.52 L624.6,55.52 L625.6,55.52 L626.6,55.51 L627.6,55.51 L628.6,55.51 L629.6,55.51 L630.6,55.50 L631.6,55.50" fill="none" stroke="#ff0000" stroke-width="1.2" stroke-dasharray="5.5,2.3"/>
<path d="M46.60,352.40 L47.44,351.17 L48.25,349.91 L49.00,348.63 L49.70,347.31 L50.34,345.96 L50.93,344.58 L51.47,343.18 L51.97,341.77 L52.44,340.35 L52.88,338.92 L53.29,337.48 L53.68,336.03 L54.05,334.57 L54.39,333.11 L54.72,331.65 L55.04,330.19 L55.35,328.72 L55.64,327.25 L55.93,325.78 L56.21,324.30 L56.49,322.83 L56.75,321.35 L57.01,319.87 L57.27,318.40 L57.52,316.92 L57.76,315.44 L58.00,313.96 L58.23,312.47 L58.46,310.99 L58.69,309.51 L58.91,308.03 L59.13,306.54 L59.35,305.06 L59.57,303.57 L59.78,302.09 L59.98,300.60 L60.18,299.12 L60.37,297.63 L60.56,296.14 L60.75,294.65 L60.93,293.16 L61.11,291.67 L61.29,290.18 L61.47,288.70 L61.66,287.21 L61.84,285.72 L62.04,284.23 L62.23,282.74 L62.44,281.26 L62.65,279.77 L62.88,278.29 L63.11,276.81 L63.35,275.33 L63.60,273.85 L63.85,272.37 L64.11,270.89 L64.38,269.42 L64.64,267.94 L64.90,266.46 L65.16,264.99 L65.42,263.51 L65.67,262.03 L65.91,260.55 L66.14,259.07 L66.37,257.58 L66.58,256.10 L66.79,254.61 L66.99,253.13 L67.18,251.64 L67.37,250.15 L67.56,248.66 L67.75,247.18 L67.94,245.69 L68.13,244.20 L68.33,242.71 L68.54,241.23 L68.76,239.74 L68.98,238.26 L69.21,236.78 L69.45,235.30 L69.69,233.82 L69.94,232.34 L70.20,230.86 L70.46,229.38 L70.72,227.91 L70.98,226.43 L71.25,224.95 L71.51,223.48 L71.77,222.00 L72.03,220.52 L72.29,219.05 L72.54,217.57 L72.79,216.09 L73.03,214.61 L73.27,213.13 L73.51,211.65 L73.74,210.16 L73.96,208.68 L74.19,207.20 L74.42,205.72 L74.65,204.23 L74.88,202.75 L75.12,201.27 L75.36,199.79 L75.61,198.31 L75.87,196.83 L76.14,195.36 L76.43,193.89 L76.72,192.41 L77.02,190.95 L77.33,189.48 L77.65,188.01 L77.97,186.55 L78.29,185.08 L78.61,183.62 L78.93,182.15 L79.24,180.68 L79.55,179.21 L79.85,177.75 L80.15,176.28 L80.44,174.80 L80.74,173.33 L81.03,171.86 L81.32,170.39 L81.61,168.92 L81.90,167.45 L82.19,165.98 L82.48,164.51 L82.78,163.04 L83.08,161.57 L83.38,160.10 L83.69,158.63 L83.99,157.16 L84.30,155.69 L84.61,154.22 L84.92,152.75 L85.23,151.29 L85.54,149.82 L85.86,148.36 L86.19,146.89 L86.52,145.43 L86.85,143.97 L87.20,142.51 L87.56,141.05 L87.93,139.60 L88.32,138.15 L88.71,136.70 L89.12,135.26 L89.54,133.82 L89.96,132.38 L90.39,130.94 L90.83,129.51 L91.27,128.07 L91.71,126.64 L92.15,125.21 L92.59,123.77 L93.04,122.34 L93.49,120.91 L93.96,119.48 L94.44,118.06 L94.93,116.65 L95.45,115.24 L95.98,113.84 L96.54,112.45 L97.11,111.06 L97.70,109.68 L98.31,108.31 L98.93,106.95 L99.57,105.59 L100.22,104.24 L100.89,102.90 L101.57,101.56 L102.27,100.23 L102.98,98.91 L103.69,97.59 L104.41,96.28 L105.13,94.96 L105.85,93.65 L106.57,92.33 L107.29,91.01 L108.01,89.70 L108.74,88.39 L109.49,87.09 L110.25,85.80 L111.04,84.52 L111.84,83.26 L112.67,82.01 L113.53,80.78 L114.42,79.57 L115.34,78.40 L116.30,77.25 L117.30,76.13 L118.32,75.04 L119.38,73.97 L120.45,72.93 L121.54,71.90 L122.64,70.88 L123.75,69.87 L124.87,68.88 L126.00,67.90 L127.15,66.93 L128.33,66.02 L129.54,65.17 L130.82,64.41 L132.14,63.75 L133.51,63.21 L134.93,62.78 L136.38,62.47 L137.85,62.25 L139.33,62.11 L140.83,62.03 L142.32,62.01 L143.82,62.03 L145.31,62.11 L146.80,62.24 L148.29,62.42 L149.77,62.66 L151.23,62.94 L152.69,63.28 L154.13,63.68 L155.56,64.12 L156.98,64.60 L158.39,65.12 L159.78,65.67 L161.16,66.26 L162.53,66.86 L163.90,67.49 L165.25,68.12 L166.60,68.77 L167.95,69.43 L169.29,70.10 L170.63,70.78 L171.97,71.46 L173.30,72.15 L174.63,72.83 L175.97,73.51 L177.32,74.16 L178.69,74.78 L180.06,75.37 L181.45,75.95 L182.84,76.51 L184.23,77.07 L185.62,77.64 L187.00,78.22 L188.37,78.82 L189.75,79.42 L191.12,80.02 L192.50,80.62 L193.88,81.21 L195.26,81.78 L196.65,82.36 L198.04,82.92 L199.43,83.47 L200.83,84.02 L202.23,84.55 L203.64,85.07 L205.05,85.57 L206.47,86.04 L207.90,86.50 L209.33,86.94 L210.77,87.37 L212.22,87.78 L213.66,88.17 L215.11,88.55 L216.57,88.91 L218.03,89.25 L219.49,89.58 L220.96,89.88 L222.43,90.16 L223.91,90.43 L225.39,90.67 L226.87,90.91 L228.35,91.13 L229.84,91.34 L231.33,91.54 L232.81,91.71 L234.31,91.88 L235.80,92.02 L237.29,92.15 L238.79,92.26 L240.28,92.36 L241.78,92.45 L243.28,92.53 L244.78,92.61 L246.28,92.67 L247.77,92.72 L249.27,92.77 L250.77,92.80 L252.27,92.83 L253.77,92.85 L255.27,92.87 L256.77,92.88 L258.27,92.87 L259.77,92.86 L261.27,92.83 L262.77,92.79 L264.27,92.74 L265.77,92.68 L267.27,92.62 L268.77,92.55 L270.26,92.48 L271.76,92.39 L273.26,92.31 L274.76,92.21 L276.25,92.11 L277.75,91.99 L279.24,91.87 L280.74,91.75 L282.23,91.62 L283.73,91.48 L285.22,91.35 L286.71,91.21 L288.21,91.07 L289.70,90.94 L291.19,90.80 L292.69,90.67 L294.18,90.54 L295.68,90.42 L297.17,90.30 L298.67,90.19 L300.16,90.07 L301.66,89.96 L303.16,89.85 L304.65,89.74 L306.15,89.63 L307.64,89.53 L309.14,89.42 L310.64,89.32 L312.13,89.22 L313.63,89.13 L315.13,89.05 L316.63,88.97 L318.13,88.89 L319.62,88.83 L321.12,88.76 L322.62,88.71 L324.12,88.65 L325.62,88.60 L327.12,88.55 L328.62,88.51 L330.12,88.46 L331.62,88.42 L333.12,88.38 L334.62,88.35 L336.12,88.31 L337.62,88.28 L339.11,88.25 L340.61,88.23 L342.11,88.20 L343.61,88.18 L345.11,88.16 L346.61,88.15 L348.11,88.13 L349.61,88.11 L351.11,88.09 L352.61,88.07 L354.11,88.06 L355.61,88.04 L357.11,88.03 L358.61,88.01 L360.11,88.00 L361.61,87.99 L363.11,87.97 L364.61,87.96 L366.11,87.95 L367.61,87.94 L369.11,87.93 L370.61,87.93 L372.11,87.92 L373.61,87.91 L375.11,87.91 L376.61,87.91 L378.11,87.90 L379.61,87.90 L381.11,87.90 L382.61,87.90 L384.11,87.90 L385.61,87.90 L387.11,87.90 L388.61,87.90 L390.11,87.90 L391.61,87.90 L392.61,87.90 L393.61,87.90 L394.61,87.90 L395.61,87.90 L396.61,87.90 L397.61,87.90 L398.61,87.90 L399.61,87.90 L400.61,87.90 L401.61,87.90 L402.61,87.90 L403.61,87.90 L404.61,87.90 L405.61,87.90 L406.61,87.90 L407.61,87.90 L408.61,87.90 L409.61,87.90 L410.61,87.90 L411.61,87.90 L412.61,87.90 L413.61,87.90 L414.61,87.90 L415.61,87.90 L416.61,87.90 L417.61,87.90 L418.61,87.90 L419.61,87.90 L420.61,87.90 L421.61,87.90 L422.61,87.90 L423.61,87.90 L424.61,87.90 L425.61,87.90 L426.61,87.90 L427.61,87.90 L428.61,87.90 L429.61,87.90 L430.61,87.90 L431.61,87.90 L432.61,87.90 L433.61,87.90 L434.61,87.90 L435.61,87.90 L436.61,87.90 L437.61,87.90 L438.61,87.90 L439.61,87.90 L440.61,87.90 L441.61,87.90 L442.61,87.90 L443.61,87.90 L444.61,87.90 L445.61,87.90 L446.61,87.90 L447.61,87.90 L448.61,87.90 L449.61,87.90 L450.61,87.90 L451.61,87.90 L452.61,87.90 L453.61,87.90 L454.61,87.90 L455.61,87.90 L456.61,87.90 L457.61,87.90 L458.61,87.90 L459.61,87.90 L460.61,87.90 L461.61,87.90 L462.61,87.90 L463.61,87.90 L464.61,87.90 L465.61,87.90 L466.61,87.90 L467.61,87.90 L468.61,87.90 L469.61,87.90 L470.61,87.90 L471.61,87.90 L472.61,87.90 L473.61,87.90 L474.61,87.90 L475.61,87.90 L476.61,87.90 L477.61,87.90 L478.61,87.90 L479.61,87.90 L480.61,87.90 L481.61,87.90 L482.61,87.90 L483.61,87.90 L484.61,87.90 L485.61,87.90 L486.61,87.90 L487.61,87.90 L488.61,87.90 L489.61,87.90 L490.61,87.90 L491.61,87.90 L492.61,87.90 L493.61,87.90 L494.61,87.90 L495.61,87.90 L496.61,87.90 L497.61,87.90 L498.61,87.90 L499.61,87.90 L500.61,87.90 L501.61,87.90 L502.61,87.90 L503.61,87.90 L504.61,87.90 L505.61,87.90 L506.61,87.90 L507.61,87.90 L508.61,87.90 L509.61,87.90 L510.61,87.90 L511.61,87.90 L512.61,87.90 L513.61,87.90 L514.61,87.90 L515.61,87.90 L516.61,87.90 L517.61,87.90 L519.11,87.90 L520.11,87.90 L521.11,87.90 L522.61,87.90 L523.61,87.90 L525.11,87.90 L526.11,87.90 L527.11,87.90 L528.11,87.90 L529.11,87.90 L530.11,87.90 L531.61,87.90 L532.61,87.90 L534.11,87.90 L535.61,87.90 L536.61,87.90 L538.11,87.90 L539.61,87.90 L540.61,87.90 L541.61,87.90 L542.61,87.90 L543.61,87.90 L544.61,87.90 L546.11,87.90 L547.11,87.90 L548.11,87.90 L549.11,87.90 L550.61,87.90 L551.61,87.90 L552.61,87.90 L554.11,87.90 L555.11,87.90 L556.61,87.90 L557.61,87.90 L558.61,87.90 L559.61,87.90 L560.61,87.90 L561.61,87.90 L562.61,87.90 L564.11,87.90 L565.61,87.90 L566.61,87.90 L568.11,87.90 L569.11,87.90 L570.61,87.90 L571.61,87.90 L572.61,87.90 L573.61,87.90 L574.61,87.90 L575.61,87.90 L577.11,87.90 L578.11,87.90 L579.61,87.90 L580.61,87.90 L581.61,87.90 L582.61,87.90 L583.61,87.90 L585.11,87.90 L586.61,87.90 L587.61,87.90 L588.61,87.90 L589.61,87.90 L591.11,87.90 L592.61,87.90 L593.61,87.90 L595.11,87.90 L596.61,87.90 L597.61,87.90 L599.11,87.90 L600.61,87.90 L602.11,87.90 L603.11,87.90 L604.61,87.90 L605.61,87.90 L607.11,87.90 L608.61,87.90 L609.61,87.90 L610.61,87.90 L612.11,87.90 L613.61,87.90 L614.61,87.90 L616.11,87.90 L617.11,87.90 L618.11,87.90 L619.61,87.90 L620.61,87.90 L621.61,87.90 L622.61,87.90 L624.11,87.90 L625.11,87.90 L626.11,87.90 L627.11,87.90 L628.11,87.90 L629.11,87.90 L630.11,87.90 L631.11,87.90 L631.11,87.90" fill="none" stroke="#000" stroke-width="3.2" stroke-linejoin="round"/>
<path d="M46.60,352.40 L47.44,351.17 L48.25,349.91 L49.00,348.63 L49.70,347.31 L50.34,345.96 L50.93,344.58 L51.47,343.18 L51.97,341.77 L52.44,340.35 L52.88,338.92 L53.29,337.48 L53.68,336.03 L54.05,334.57 L54.39,333.11 L54.72,331.65 L55.04,330.19 L55.35,328.72 L55.64,327.25 L55.93,325.78 L56.21,324.30 L56.49,322.83 L56.75,321.35 L57.01,319.87 L57.27,318.40 L57.52,316.92 L57.76,315.44 L58.00,313.96 L58.23,312.47 L58.46,310.99 L58.69,309.51 L58.91,308.03 L59.13,306.54 L59.35,305.06 L59.57,303.57 L59.78,302.09 L59.98,300.60 L60.18,299.12 L60.37,297.63 L60.56,296.14 L60.75,294.65 L60.93,293.16 L61.11,291.67 L61.29,290.18 L61.47,288.70 L61.66,287.21 L61.84,285.72 L62.04,284.23 L62.23,282.74 L62.44,281.26 L62.65,279.77 L62.88,278.29 L63.11,276.81 L63.35,275.33 L63.60,273.85 L63.85,272.37 L64.11,270.89 L64.38,269.42 L64.64,267.94 L64.90,266.46 L65.16,264.99 L65.42,263.51 L65.67,262.03 L65.91,260.55 L66.14,259.07 L66.37,257.58 L66.58,256.10 L66.79,254.61 L66.99,253.13 L67.18,251.64 L67.37,250.15 L67.56,248.66 L67.75,247.18 L67.94,245.69 L68.13,244.20 L68.33,242.71 L68.54,241.23 L68.76,239.74 L68.98,238.26 L69.21,236.78 L69.45,235.30 L69.69,233.82 L69.94,232.34 L70.20,230.86 L70.46,229.38 L70.72,227.91 L70.98,226.43 L71.25,224.95 L71.51,223.48 L71.77,222.00 L72.03,220.52 L72.29,219.05 L72.54,217.57 L72.79,216.09 L73.03,214.61 L73.27,213.13 L73.51,211.65 L73.74,210.16 L73.96,208.68 L74.19,207.20 L74.42,205.72 L74.65,204.23 L74.88,202.75 L75.12,201.27 L75.36,199.79 L75.61,198.31 L75.87,196.83 L76.14,195.36 L76.43,193.89 L76.72,192.41 L77.02,190.95 L77.33,189.48 L77.65,188.01 L77.97,186.55 L78.29,185.08 L78.61,183.62 L78.93,182.15 L79.24,180.68 L79.55,179.21 L79.85,177.75 L80.15,176.28 L80.44,174.80 L80.74,173.33 L81.03,171.86 L81.32,170.39 L81.61,168.92 L81.90,167.45 L82.19,165.98 L82.48,164.51 L82.78,163.04 L83.08,161.57 L83.38,160.10 L83.69,158.63 L83.99,157.16 L84.30,155.69 L84.61,154.22 L84.92,152.75 L85.23,151.29 L85.54,149.82 L85.86,148.36 L86.19,146.89 L86.52,145.43 L86.85,143.97 L87.20,142.51 L87.56,141.05 L87.93,139.60 L88.32,138.15 L88.71,136.70 L89.12,135.26 L89.54,133.82 L89.96,132.38 L90.39,130.94 L90.83,129.51 L91.27,128.07 L91.71,126.64 L92.15,125.21 L92.59,123.77 L93.04,122.34 L93.49,120.91 L93.96,119.48 L94.44,118.06 L94.93,116.65 L95.45,115.24 L95.98,113.84 L96.54,112.45 L97.11,111.06 L97.70,109.68 L98.31,108.31 L98.93,106.95 L99.57,105.59 L100.22,104.24 L100.89,102.90 L101.57,101.56 L102.27,100.23 L102.98,98.91 L103.69,97.59 L104.41,96.28 L105.13,94.96 L105.85,93.65 L106.57,92.33 L107.29,91.01 L108.01,89.70 L108.74,88.39 L109.49,87.09 L110.25,85.80 L111.04,84.52 L111.84,83.26 L112.67,82.01 L113.53,80.78 L114.42,79.57 L115.34,78.40 L116.30,77.25 L117.30,76.13 L118.32,75.04 L119.38,73.97 L120.45,72.93 L121.54,71.90 L122.64,70.88 L123.75,69.87 L124.87,68.88 L126.00,67.90 L127.15,66.93 L128.33,66.02 L129.54,65.17 L130.82,64.41 L132.14,63.75 L133.51,63.21 L134.93,62.78 L136.38,62.47 L137.85,62.25 L139.33,62.11 L140.83,62.03 L142.32,62.01 L143.82,62.03 L145.31,62.11 L146.80,62.24 L148.29,62.42 L149.77,62.66 L151.23,62.94 L152.69,63.28 L154.13,63.68 L155.56,64.12 L156.98,64.60 L158.39,65.12 L159.78,65.67 L161.16,66.26 L162.53,66.86 L163.90,67.49 L165.25,68.12 L166.60,68.77 L167.95,69.43 L169.29,70.10 L170.63,70.78 L171.97,71.46 L173.30,72.15 L174.63,72.83 L175.97,73.51 L177.32,74.16 L178.69,74.78 L180.06,75.37 L181.45,75.95 L182.84,76.51 L184.23,77.07 L185.62,77.64 L187.00,78.22 L188.37,78.82 L189.75,79.42 L191.12,80.02 L192.50,80.62 L193.88,81.21 L195.26,81.78 L196.65,82.36 L198.04,82.92 L199.43,83.47 L200.83,84.02 L202.23,84.55 L203.64,85.07 L205.05,85.57 L206.47,86.04 L207.90,86.50 L209.33,86.94 L210.77,87.37 L212.22,87.78 L213.66,88.17 L215.11,88.55 L216.57,88.91 L218.03,89.25 L219.49,89.58 L220.96,89.88 L222.43,90.16 L223.91,90.43 L225.39,90.67 L226.87,90.91 L228.35,91.13 L229.84,91.34 L231.33,91.54 L232.81,91.71 L234.31,91.88 L235.80,92.02 L237.29,92.15 L238.79,92.26 L240.28,92.36 L241.78,92.45 L243.28,92.53 L244.78,92.61 L246.28,92.67 L247.77,92.72 L249.27,92.77 L250.77,92.80 L252.27,92.83 L253.77,92.85 L255.27,92.87 L256.77,92.88 L258.27,92.87 L259.77,92.86 L261.27,92.83 L262.77,92.79 L264.27,92.74 L265.77,92.68 L267.27,92.62 L268.77,92.55 L270.26,92.48 L271.76,92.39 L273.26,92.31 L274.76,92.21 L276.25,92.11 L277.75,91.99 L279.24,91.87 L280.74,91.75 L282.23,91.62 L283.73,91.48 L285.22,91.35 L286.71,91.21 L288.21,91.07 L289.70,90.94 L291.19,90.80 L292.69,90.67 L294.18,90.54 L295.68,90.42 L297.17,90.30 L298.67,90.19 L300.16,90.07 L301.66,89.96 L303.16,89.85 L304.65,89.74 L306.15,89.63 L307.64,89.53 L309.14,89.42 L310.64,89.32 L312.13,89.22 L313.63,89.13 L315.13,89.05 L316.63,88.97 L318.13,88.89 L319.62,88.83 L321.12,88.76 L322.62,88.71 L324.12,88.65 L325.62,88.60 L327.12,88.55 L328.62,88.51 L330.12,88.46 L331.62,88.42 L333.12,88.38 L334.62,88.35 L336.12,88.31 L337.62,88.28 L339.11,88.25 L340.61,88.23 L342.11,88.20 L343.61,88.18 L345.11,88.16 L346.61,88.15 L348.11,88.13 L349.61,88.11 L351.11,88.09 L352.61,88.07 L354.11,88.06 L355.61,88.04 L357.11,88.03 L358.61,88.01 L360.11,88.00 L361.61,87.99 L363.11,87.97 L364.61,87.96 L366.11,87.95 L367.61,87.94 L369.11,87.93 L370.61,87.93 L372.11,87.92 L373.61,87.91 L375.11,87.91 L376.61,87.91 L378.11,87.90 L379.61,87.90 L381.11,87.90 L382.61,87.90 L384.11,87.90 L385.61,87.90 L387.11,87.90 L388.61,87.90 L390.11,87.90 L391.61,87.90 L392.61,87.90 L393.61,87.90 L394.61,87.90 L395.61,87.90 L396.61,87.90 L397.61,87.90 L398.61,87.90 L399.61,87.90 L400.61,87.90 L401.61,87.90 L402.61,87.90 L403.61,87.90 L404.61,87.90 L405.61,87.90 L406.61,87.90 L407.61,87.90 L408.61,87.90 L409.61,87.90 L410.61,87.90 L411.61,87.90 L412.61,87.90 L413.61,87.90 L414.61,87.90 L415.61,87.90 L416.61,87.90 L417.61,87.90 L418.61,87.90 L419.61,87.90 L420.61,87.90 L421.61,87.90 L422.61,87.90 L423.61,87.90 L424.61,87.90 L425.61,87.90 L426.61,87.90 L427.61,87.90 L428.61,87.90 L429.61,87.90 L430.61,87.90 L431.61,87.90 L432.61,87.90 L433.61,87.90 L434.61,87.90 L435.61,87.90 L436.61,87.90 L437.61,87.90 L438.61,87.90 L439.61,87.90 L440.61,87.90 L441.61,87.90 L442.61,87.90 L443.61,87.90 L444.61,87.90 L445.61,87.90 L446.61,87.90 L447.61,87.90 L448.61,87.90 L449.61,87.90 L450.61,87.90 L451.61,87.90 L452.61,87.90 L453.61,87.90 L454.61,87.90 L455.61,87.90 L456.61,87.90 L457.61,87.90 L458.61,87.90 L459.61,87.90 L460.61,87.90 L461.61,87.90 L462.61,87.90 L463.61,87.90 L464.61,87.90 L465.61,87.90 L466.61,87.90 L467.61,87.90 L468.61,87.90 L469.61,87.90 L470.61,87.90 L471.61,87.90 L472.61,87.90 L473.61,87.90 L474.61,87.90 L475.61,87.90 L476.61,87.90 L477.61,87.90 L478.61,87.90 L479.61,87.90 L480.61,87.90 L481.61,87.90 L482.61,87.90 L483.61,87.90 L484.61,87.90 L485.61,87.90 L486.61,87.90 L487.61,87.90 L488.61,87.90 L489.61,87.90 L490.61,87.90 L491.61,87.90 L492.61,87.90 L493.61,87.90 L494.61,87.90 L495.61,87.90 L496.61,87.90 L497.61,87.90 L498.61,87.90 L499.61,87.90 L500.61,87.90 L501.61,87.90 L502.61,87.90 L503.61,87.90 L504.61,87.90 L505.61,87.90 L506.61,87.90 L507.61,87.90 L508.61,87.90 L509.61,87.90 L510.61,87.90 L511.61,87.90 L512.61,87.90 L513.61,87.90 L514.61,87.90 L515.61,87.90 L516.61,87.90 L517.61,87.90 L519.11,87.90 L520.11,87.90 L521.11,87.90 L522.61,87.90 L523.61,87.90 L525.11,87.90 L526.11,87.90 L527.11,87.90 L528.11,87.90 L529.11,87.90 L530.11,87.90 L531.61,87.90 L532.61,87.90 L534.11,87.90 L535.61,87.90 L536.61,87.90 L538.11,87.90 L539.61,87.90 L540.61,87.90 L541.61,87.90 L542.61,87.90 L543.61,87.90 L544.61,87.90 L546.11,87.90 L547.11,87.90 L548.11,87.90 L549.11,87.90 L550.61,87.90 L551.61,87.90 L552.61,87.90 L554.11,87.90 L555.11,87.90 L556.61,87.90 L557.61,87.90 L558.61,87.90 L559.61,87.90 L560.61,87.90 L561.61,87.90 L562.61,87.90 L564.11,87.90 L565.61,87.90 L566.61,87.90 L568.11,87.90 L569.11,87.90 L570.61,87.90 L571.61,87.90 L572.61,87.90 L573.61,87.90 L574.61,87.90 L575.61,87.90 L577.11,87.90 L578.11,87.90 L579.61,87.90 L580.61,87.90 L581.61,87.90 L582.61,87.90 L583.61,87.90 L585.11,87.90 L586.61,87.90 L587.61,87.90 L588.61,87.90 L589.61,87.90 L591.11,87.90 L592.61,87.90 L593.61,87.90 L595.11,87.90 L596.61,87.90 L597.61,87.90 L599.11,87.90 L600.61,87.90 L602.11,87.90 L603.11,87.90 L604.61,87.90 L605.61,87.90 L607.11,87.90 L608.61,87.90 L609.61,87.90 L610.61,87.90 L612.11,87.90 L613.61,87.90 L614.61,87.90 L616.11,87.90 L617.11,87.90 L618.11,87.90 L619.61,87.90 L620.61,87.90 L621.61,87.90 L622.61,87.90 L624.11,87.90 L625.11,87.90 L626.11,87.90 L627.11,87.90 L628.11,87.90 L629.11,87.90 L630.11,87.90 L631.11,87.90 L631.11,87.90" fill="none" stroke="#ff0000" stroke-width="2.0" stroke-linejoin="round"/>
<path d="M43.60,351.60l6.00,6.00M43.60,357.60l6.00,-6.00 M50.19,233.17l6.00,6.00M50.19,239.17l6.00,-6.00 M56.77,146.69l6.00,6.00M56.77,152.69l6.00,-6.00 M63.36,96.07l6.00,6.00M63.36,102.07l6.00,-6.00 M69.94,75.81l6.00,6.00M69.94,81.81l6.00,-6.00 M76.53,73.30l6.00,6.00M76.53,79.30l6.00,-6.00 M83.11,81.31l6.00,6.00M83.11,87.31l6.00,-6.00 M89.70,92.78l6.00,6.00M89.70,98.78l6.00,-6.00 M96.29,108.24l6.00,6.00M96.29,114.24l6.00,-6.00 M102.87,123.42l6.00,6.00M102.87,129.42l6.00,-6.00 M109.46,137.87l6.00,6.00M109.46,143.87l6.00,-6.00 M116.04,149.82l6.00,6.00M116.04,155.82l6.00,-6.00 M122.63,159.98l6.00,6.00M122.63,165.98l6.00,-6.00 M129.21,171.28l6.00,6.00M129.21,177.28l6.00,-6.00 M135.80,179.91l6.00,6.00M135.80,185.91l6.00,-6.00 M142.39,187.80l6.00,6.00M142.39,193.80l6.00,-6.00 M148.97,193.80l6.00,6.00M148.97,199.80l6.00,-6.00 M155.56,201.77l6.00,6.00M155.56,207.77l6.00,-6.00 M162.14,207.28l6.00,6.00M162.14,213.28l6.00,-6.00 M168.73,211.62l6.00,6.00M168.73,217.62l6.00,-6.00 M175.31,216.16l6.00,6.00M175.31,222.16l6.00,-6.00 M181.90,219.60l6.00,6.00M181.90,225.60l6.00,-6.00 M188.49,222.60l6.00,6.00M188.49,228.60l6.00,-6.00 M195.07,225.02l6.00,6.00M195.07,231.02l6.00,-6.00 M201.66,227.56l6.00,6.00M201.66,233.56l6.00,-6.00 M208.24,229.75l6.00,6.00M208.24,235.75l6.00,-6.00 M214.83,231.62l6.00,6.00M214.83,237.62l6.00,-6.00 M221.42,232.93l6.00,6.00M221.42,238.93l6.00,-6.00 M228.00,233.88l6.00,6.00M228.00,239.88l6.00,-6.00 M234.59,234.74l6.00,6.00M234.59,240.74l6.00,-6.00 M241.17,235.23l6.00,6.00M241.17,241.23l6.00,-6.00 M247.76,235.48l6.00,6.00M247.76,241.48l6.00,-6.00 M254.34,235.61l6.00,6.00M254.34,241.61l6.00,-6.00 M260.93,235.51l6.00,6.00M260.93,241.51l6.00,-6.00 M267.52,235.35l6.00,6.00M267.52,241.35l6.00,-6.00 M274.10,235.16l6.00,6.00M274.10,241.16l6.00,-6.00 M280.69,234.92l6.00,6.00M280.69,240.92l6.00,-6.00 M287.27,234.68l6.00,6.00M287.27,240.68l6.00,-6.00 M293.86,234.47l6.00,6.00M293.86,240.47l6.00,-6.00 M300.44,234.33l6.00,6.00M300.44,240.33l6.00,-6.00 M307.03,234.23l6.00,6.00M307.03,240.23l6.00,-6.00 M313.62,234.14l6.00,6.00M313.62,240.14l6.00,-6.00 M320.20,234.07l6.00,6.00M320.20,240.07l6.00,-6.00 M326.79,234.00l6.00,6.00M326.79,240.00l6.00,-6.00 M333.37,233.93l6.00,6.00M333.37,239.93l6.00,-6.00 M339.96,233.85l6.00,6.00M339.96,239.85l6.00,-6.00 M346.54,233.77l6.00,6.00M346.54,239.77l6.00,-6.00 M353.13,233.66l6.00,6.00M353.13,239.66l6.00,-6.00 M359.72,233.51l6.00,6.00M359.72,239.51l6.00,-6.00 M366.30,233.28l6.00,6.00M366.30,239.28l6.00,-6.00 M372.89,232.97l6.00,6.00M372.89,238.97l6.00,-6.00 M379.47,232.65l6.00,6.00M379.47,238.65l6.00,-6.00 M386.06,232.34l6.00,6.00M386.06,238.34l6.00,-6.00 M392.64,232.10l6.00,6.00M392.64,238.10l6.00,-6.00 M399.23,231.96l6.00,6.00M399.23,237.96l6.00,-6.00 M405.82,231.86l6.00,6.00M405.82,237.86l6.00,-6.00 M412.40,231.76l6.00,6.00M412.40,237.76l6.00,-6.00 M418.99,231.67l6.00,6.00M418.99,237.67l6.00,-6.00 M425.57,231.58l6.00,6.00M425.57,237.58l6.00,-6.00 M432.16,231.51l6.00,6.00M432.16,237.51l6.00,-6.00 M438.75,231.44l6.00,6.00M438.75,237.44l6.00,-6.00 M445.33,231.38l6.00,6.00M445.33,237.38l6.00,-6.00 M451.92,231.32l6.00,6.00M451.92,237.32l6.00,-6.00 M458.50,231.28l6.00,6.00M458.50,237.28l6.00,-6.00 M465.09,231.24l6.00,6.00M465.09,237.24l6.00,-6.00 M471.67,231.22l6.00,6.00M471.67,237.22l6.00,-6.00 M478.26,231.20l6.00,6.00M478.26,237.20l6.00,-6.00 M484.85,231.18l6.00,6.00M484.85,237.18l6.00,-6.00 M491.43,231.17l6.00,6.00M491.43,237.17l6.00,-6.00 M498.02,231.15l6.00,6.00M498.02,237.15l6.00,-6.00 M504.60,231.14l6.00,6.00M504.60,237.14l6.00,-6.00 M511.19,231.12l6.00,6.00M511.19,237.12l6.00,-6.00 M517.77,231.11l6.00,6.00M517.77,237.11l6.00,-6.00 M524.36,231.10l6.00,6.00M524.36,237.10l6.00,-6.00 M530.95,231.09l6.00,6.00M530.95,237.09l6.00,-6.00 M537.53,231.07l6.00,6.00M537.53,237.07l6.00,-6.00 M544.12,231.06l6.00,6.00M544.12,237.06l6.00,-6.00 M550.70,231.06l6.00,6.00M550.70,237.06l6.00,-6.00 M557.29,231.05l6.00,6.00M557.29,237.05l6.00,-6.00 M563.87,231.04l6.00,6.00M563.87,237.04l6.00,-6.00 M570.46,231.03l6.00,6.00M570.46,237.03l6.00,-6.00 M577.05,231.02l6.00,6.00M577.05,237.02l6.00,-6.00 M583.63,231.02l6.00,6.00M583.63,237.02l6.00,-6.00 M590.22,231.01l6.00,6.00M590.22,237.01l6.00,-6.00 M596.80,231.01l6.00,6.00M596.80,237.01l6.00,-6.00 M603.39,231.01l6.00,6.00M603.39,237.01l6.00,-6.00 M609.97,231.00l6.00,6.00M609.97,237.00l6.00,-6.00 M616.56,231.00l6.00,6.00M616.56,237.00l6.00,-6.00 M623.15,231.00l6.00,6.00M623.15,237.00l6.00,-6.00" fill="none" stroke="#0000ff" stroke-width="1.3"/>
<path d="M43.60,354.60a3.0,3.0 0 1,0 6.00,0a3.0,3.0 0 1,0 -6.00,0 M50.19,236.22a3.0,3.0 0 1,0 6.00,0a3.0,3.0 0 1,0 -6.00,0 M56.77,149.78a3.0,3.0 0 1,0 6.00,0a3.0,3.0 0 1,0 -6.00,0 M63.36,99.19a3.0,3.0 0 1,0 6.00,0a3.0,3.0 0 1,0 -6.00,0 M69.94,78.97a3.0,3.0 0 1,0 6.00,0a3.0,3.0 0 1,0 -6.00,0 M76.53,76.50a3.0,3.0 0 1,0 6.00,0a3.0,3.0 0 1,0 -6.00,0 M83.11,84.52a3.0,3.0 0 1,0 6.00,0a3.0,3.0 0 1,0 -6.00,0 M89.70,96.00a3.0,3.0 0 1,0 6.00,0a3.0,3.0 0 1,0 -6.00,0 M96.29,111.47a3.0,3.0 0 1,0 6.00,0a3.0,3.0 0 1,0 -6.00,0 M102.87,126.66a3.0,3.0 0 1,0 6.00,0a3.0,3.0 0 1,0 -6.00,0 M109.46,141.11a3.0,3.0 0 1,0 6.00,0a3.0,3.0 0 1,0 -6.00,0 M116.04,153.07a3.0,3.0 0 1,0 6.00,0a3.0,3.0 0 1,0 -6.00,0 M122.63,163.25a3.0,3.0 0 1,0 6.00,0a3.0,3.0 0 1,0 -6.00,0 M129.21,174.56a3.0,3.0 0 1,0 6.00,0a3.0,3.0 0 1,0 -6.00,0 M135.80,183.20a3.0,3.0 0 1,0 6.00,0a3.0,3.0 0 1,0 -6.00,0 M142.39,191.09a3.0,3.0 0 1,0 6.00,0a3.0,3.0 0 1,0 -6.00,0 M148.97,197.12a3.0,3.0 0 1,0 6.00,0a3.0,3.0 0 1,0 -6.00,0 M155.56,205.17a3.0,3.0 0 1,0 6.00,0a3.0,3.0 0 1,0 -6.00,0 M162.14,210.75a3.0,3.0 0 1,0 6.00,0a3.0,3.0 0 1,0 -6.00,0 M168.73,215.17a3.0,3.0 0 1,0 6.00,0a3.0,3.0 0 1,0 -6.00,0 M175.31,219.79a3.0,3.0 0 1,0 6.00,0a3.0,3.0 0 1,0 -6.00,0 M181.90,223.30a3.0,3.0 0 1,0 6.00,0a3.0,3.0 0 1,0 -6.00,0 M188.49,226.39a3.0,3.0 0 1,0 6.00,0a3.0,3.0 0 1,0 -6.00,0 M195.07,228.89a3.0,3.0 0 1,0 6.00,0a3.0,3.0 0 1,0 -6.00,0 M201.66,231.50a3.0,3.0 0 1,0 6.00,0a3.0,3.0 0 1,0 -6.00,0 M208.24,233.78a3.0,3.0 0 1,0 6.00,0a3.0,3.0 0 1,0 -6.00,0 M214.83,235.82a3.0,3.0 0 1,0 6.00,0a3.0,3.0 0 1,0 -6.00,0 M221.42,237.30a3.0,3.0 0 1,0 6.00,0a3.0,3.0 0 1,0 -6.00,0 M228.00,238.42a3.0,3.0 0 1,0 6.00,0a3.0,3.0 0 1,0 -6.00,0 M234.59,239.45a3.0,3.0 0 1,0 6.00,0a3.0,3.0 0 1,0 -6.00,0 M241.17,240.11a3.0,3.0 0 1,0 6.00,0a3.0,3.0 0 1,0 -6.00,0 M247.76,240.52a3.0,3.0 0 1,0 6.00,0a3.0,3.0 0 1,0 -6.00,0 M254.34,240.81a3.0,3.0 0 1,0 6.00,0a3.0,3.0 0 1,0 -6.00,0 M260.93,240.88a3.0,3.0 0 1,0 6.00,0a3.0,3.0 0 1,0 -6.00,0 M267.52,240.90a3.0,3.0 0 1,0 6.00,0a3.0,3.0 0 1,0 -6.00,0 M274.10,240.88a3.0,3.0 0 1,0 6.00,0a3.0,3.0 0 1,0 -6.00,0 M280.69,240.84a3.0,3.0 0 1,0 6.00,0a3.0,3.0 0 1,0 -6.00,0 M287.27,240.78a3.0,3.0 0 1,0 6.00,0a3.0,3.0 0 1,0 -6.00,0 M293.86,240.72a3.0,3.0 0 1,0 6.00,0a3.0,3.0 0 1,0 -6.00,0 M300.44,240.68a3.0,3.0 0 1,0 6.00,0a3.0,3.0 0 1,0 -6.00,0 M307.03,240.64a3.0,3.0 0 1,0 6.00,0a3.0,3.0 0 1,0 -6.00,0 M313.62,240.61a3.0,3.0 0 1,0 6.00,0a3.0,3.0 0 1,0 -6.00,0 M320.20,240.57a3.0,3.0 0 1,0 6.00,0a3.0,3.0 0 1,0 -6.00,0 M326.79,240.54a3.0,3.0 0 1,0 6.00,0a3.0,3.0 0 1,0 -6.00,0 M333.37,240.50a3.0,3.0 0 1,0 6.00,0a3.0,3.0 0 1,0 -6.00,0 M339.96,240.46a3.0,3.0 0 1,0 6.00,0a3.0,3.0 0 1,0 -6.00,0 M346.54,240.40a3.0,3.0 0 1,0 6.00,0a3.0,3.0 0 1,0 -6.00,0 M353.13,240.34a3.0,3.0 0 1,0 6.00,0a3.0,3.0 0 1,0 -6.00,0 M359.72,240.26a3.0,3.0 0 1,0 6.00,0a3.0,3.0 0 1,0 -6.00,0 M366.30,240.09a3.0,3.0 0 1,0 6.00,0a3.0,3.0 0 1,0 -6.00,0 M372.89,239.84a3.0,3.0 0 1,0 6.00,0a3.0,3.0 0 1,0 -6.00,0 M379.47,239.57a3.0,3.0 0 1,0 6.00,0a3.0,3.0 0 1,0 -6.00,0 M386.06,239.31a3.0,3.0 0 1,0 6.00,0a3.0,3.0 0 1,0 -6.00,0 M392.64,239.09a3.0,3.0 0 1,0 6.00,0a3.0,3.0 0 1,0 -6.00,0 M399.23,238.96a3.0,3.0 0 1,0 6.00,0a3.0,3.0 0 1,0 -6.00,0 M405.82,238.86a3.0,3.0 0 1,0 6.00,0a3.0,3.0 0 1,0 -6.00,0 M412.40,238.77a3.0,3.0 0 1,0 6.00,0a3.0,3.0 0 1,0 -6.00,0 M418.99,238.68a3.0,3.0 0 1,0 6.00,0a3.0,3.0 0 1,0 -6.00,0 M425.57,238.59a3.0,3.0 0 1,0 6.00,0a3.0,3.0 0 1,0 -6.00,0 M432.16,238.51a3.0,3.0 0 1,0 6.00,0a3.0,3.0 0 1,0 -6.00,0 M438.75,238.45a3.0,3.0 0 1,0 6.00,0a3.0,3.0 0 1,0 -6.00,0 M445.33,238.38a3.0,3.0 0 1,0 6.00,0a3.0,3.0 0 1,0 -6.00,0 M451.92,238.33a3.0,3.0 0 1,0 6.00,0a3.0,3.0 0 1,0 -6.00,0 M458.50,238.28a3.0,3.0 0 1,0 6.00,0a3.0,3.0 0 1,0 -6.00,0 M465.09,238.25a3.0,3.0 0 1,0 6.00,0a3.0,3.0 0 1,0 -6.00,0 M471.67,238.22a3.0,3.0 0 1,0 6.00,0a3.0,3.0 0 1,0 -6.00,0 M478.26,238.20a3.0,3.0 0 1,0 6.00,0a3.0,3.0 0 1,0 -6.00,0 M484.85,238.18a3.0,3.0 0 1,0 6.00,0a3.0,3.0 0 1,0 -6.00,0 M491.43,238.17a3.0,3.0 0 1,0 6.00,0a3.0,3.0 0 1,0 -6.00,0 M498.02,238.15a3.0,3.0 0 1,0 6.00,0a3.0,3.0 0 1,0 -6.00,0 M504.60,238.14a3.0,3.0 0 1,0 6.00,0a3.0,3.0 0 1,0 -6.00,0 M511.19,238.12a3.0,3.0 0 1,0 6.00,0a3.0,3.0 0 1,0 -6.00,0 M517.77,238.11a3.0,3.0 0 1,0 6.00,0a3.0,3.0 0 1,0 -6.00,0 M524.36,238.10a3.0,3.0 0 1,0 6.00,0a3.0,3.0 0 1,0 -6.00,0 M530.95,238.09a3.0,3.0 0 1,0 6.00,0a3.0,3.0 0 1,0 -6.00,0 M537.53,238.07a3.0,3.0 0 1,0 6.00,0a3.0,3.0 0 1,0 -6.00,0 M544.12,238.06a3.0,3.0 0 1,0 6.00,0a3.0,3.0 0 1,0 -6.00,0 M550.70,238.06a3.0,3.0 0 1,0 6.00,0a3.0,3.0 0 1,0 -6.00,0 M557.29,238.05a3.0,3.0 0 1,0 6.00,0a3.0,3.0 0 1,0 -6.00,0 M563.87,238.04a3.0,3.0 0 1,0 6.00,0a3.0,3.0 0 1,0 -6.00,0 M570.46,238.03a3.0,3.0 0 1,0 6.00,0a3.0,3.0 0 1,0 -6.00,0 M577.05,238.02a3.0,3.0 0 1,0 6.00,0a3.0,3.0 0 1,0 -6.00,0 M583.63,238.02a3.0,3.0 0 1,0 6.00,0a3.0,3.0 0 1,0 -6.00,0 M590.22,238.01a3.0,3.0 0 1,0 6.00,0a3.0,3.0 0 1,0 -6.00,0 M596.80,238.01a3.0,3.0 0 1,0 6.00,0a3.0,3.0 0 1,0 -6.00,0 M603.39,238.01a3.0,3.0 0 1,0 6.00,0a3.0,3.0 0 1,0 -6.00,0 M609.97,238.00a3.0,3.0 0 1,0 6.00,0a3.0,3.0 0 1,0 -6.00,0 M616.56,238.00a3.0,3.0 0 1,0 6.00,0a3.0,3.0 0 1,0 -6.00,0 M623.15,238.00a3.0,3.0 0 1,0 6.00,0a3.0,3.0 0 1,0 -6.00,0" fill="none" stroke="#0000ff" stroke-width="1.3"/>
<path d="M43.40,354.60h6.40M46.60,351.40v6.40 M49.99,235.52h6.40M53.19,232.32v6.40 M56.57,148.98h6.40M59.77,145.78v6.40 M63.16,98.59h6.40M66.36,95.39v6.40 M69.74,78.07h6.40M72.94,74.87v6.40 M76.33,75.10h6.40M79.53,71.90v6.40 M82.91,82.62h6.40M86.11,79.42v6.40 M89.50,93.50h6.40M92.70,90.30v6.40 M96.09,108.47h6.40M99.29,105.27v6.40 M102.67,122.65h6.40M105.87,119.45v6.40 M109.26,136.61h6.40M112.46,133.41v6.40 M115.84,148.57h6.40M119.04,145.37v6.40 M122.43,157.54h6.40M125.63,154.34v6.40 M129.01,168.76h6.40M132.21,165.56v6.40 M135.60,176.68h6.40M138.80,173.48v6.40 M142.19,184.94h6.40M145.39,181.74v6.40 M148.77,191.77h6.40M151.97,188.57v6.40 M155.36,198.17h6.40M158.56,194.97v6.40 M161.94,204.23h6.40M165.14,201.03v6.40 M168.53,208.59h6.40M171.73,205.39v6.40 M175.12,212.45h6.40M178.31,209.25v6.40 M181.70,216.19h6.40M184.90,212.99v6.40 M188.29,219.95h6.40M191.49,216.75v6.40 M194.87,222.29h6.40M198.07,219.09v6.40 M201.46,224.98h6.40M204.66,221.78v6.40 M208.04,227.08h6.40M211.24,223.88v6.40 M214.63,228.76h6.40M217.83,225.56v6.40 M221.22,230.27h6.40M224.42,227.07v6.40 M227.80,231.31h6.40M231.00,228.11v6.40 M234.39,232.11h6.40M237.59,228.91v6.40 M240.97,232.70h6.40M244.17,229.50v6.40 M247.56,233.01h6.40M250.76,229.81v6.40 M254.14,233.20h6.40M257.34,230.00v6.40 M260.73,233.17h6.40M263.93,229.97v6.40 M267.32,233.09h6.40M270.52,229.89v6.40 M273.90,232.94h6.40M277.10,229.74v6.40 M280.49,232.70h6.40M283.69,229.50v6.40 M287.07,232.42h6.40M290.27,229.22v6.40 M293.66,232.19h6.40M296.86,228.99v6.40 M300.24,232.02h6.40M303.44,228.82v6.40 M306.83,231.89h6.40M310.03,228.69v6.40 M313.42,231.77h6.40M316.62,228.57v6.40 M320.00,231.66h6.40M323.20,228.46v6.40 M326.59,231.56h6.40M329.79,228.36v6.40 M333.17,231.46h6.40M336.37,228.26v6.40 M339.76,231.37h6.40M342.96,228.17v6.40 M346.34,231.27h6.40M349.54,228.07v6.40 M352.93,231.17h6.40M356.13,227.97v6.40 M359.52,231.05h6.40M362.72,227.85v6.40 M366.10,230.93h6.40M369.30,227.73v6.40 M372.69,230.80h6.40M375.89,227.60v6.40 M379.27,230.67h6.40M382.47,227.47v6.40 M385.86,230.54h6.40M389.06,227.34v6.40 M392.44,230.42h6.40M395.64,227.22v6.40 M399.03,230.29h6.40M402.23,227.09v6.40 M405.62,230.18h6.40M408.82,226.98v6.40 M412.20,230.07h6.40M415.40,226.87v6.40 M418.79,229.97h6.40M421.99,226.77v6.40 M425.37,229.87h6.40M428.57,226.67v6.40 M431.96,229.77h6.40M435.16,226.57v6.40 M438.55,229.67h6.40M441.75,226.47v6.40 M445.13,229.58h6.40M448.33,226.38v6.40 M451.72,229.49h6.40M454.92,226.29v6.40 M458.30,229.41h6.40M461.50,226.21v6.40 M464.89,229.36h6.40M468.09,226.16v6.40 M471.47,229.32h6.40M474.67,226.12v6.40 M478.06,229.30h6.40M481.26,226.10v6.40 M484.65,229.29h6.40M487.85,226.09v6.40 M491.23,229.28h6.40M494.43,226.08v6.40 M497.82,229.27h6.40M501.02,226.07v6.40 M504.40,229.26h6.40M507.60,226.06v6.40 M510.99,229.26h6.40M514.19,226.06v6.40 M517.57,229.25h6.40M520.77,226.05v6.40 M524.16,229.24h6.40M527.36,226.04v6.40 M530.75,229.24h6.40M533.95,226.04v6.40 M537.33,229.23h6.40M540.53,226.03v6.40 M543.92,229.23h6.40M547.12,226.03v6.40 M550.50,229.22h6.40M553.70,226.02v6.40 M557.09,229.22h6.40M560.29,226.02v6.40 M563.67,229.22h6.40M566.87,226.02v6.40 M570.26,229.21h6.40M573.46,226.01v6.40 M576.85,229.21h6.40M580.05,226.01v6.40 M583.43,229.21h6.40M586.63,226.01v6.40 M590.02,229.21h6.40M593.22,226.01v6.40 M596.60,229.20h6.40M599.80,226.00v6.40 M603.19,229.20h6.40M606.39,226.00v6.40 M609.77,229.20h6.40M612.97,226.00v6.40 M616.36,229.20h6.40M619.56,226.00v6.40 M622.95,229.20h6.40M626.15,226.00v6.40" fill="none" stroke="#0000ff" stroke-width="1.3"/>
<path d="M46.6,354.59 L47.6,335.42 L48.6,316.67 L49.6,298.36 L50.6,280.31 L51.6,262.39 L52.6,245.37 L53.6,229.87 L54.6,214.98 L55.6,200.55 L56.6,186.77 L57.6,173.84 L58.6,161.95 L59.6,151.30 L60.6,141.69 L61.6,132.46 L62.6,123.78 L63.6,115.81 L64.6,108.73 L65.6,102.70 L66.6,97.88 L67.6,93.58 L68.6,89.53 L69.6,85.88 L70.6,82.80 L71.6,80.43 L72.6,78.94 L73.6,78.21 L74.6,77.61 L75.6,77.09 L76.6,76.67 L77.6,76.35 L78.6,76.16 L79.6,76.11 L80.6,76.47 L81.6,77.34 L82.6,78.58 L83.6,80.06 L84.6,81.65 L85.6,83.21 L86.6,84.65 L87.6,86.16 L88.6,87.77 L89.6,89.47 L90.6,91.26 L91.6,93.12 L92.6,95.06 L93.6,97.11 L94.6,99.34 L95.6,101.68 L96.6,104.10 L97.6,106.54 L98.6,108.94 L99.6,111.27 L100.6,113.57 L101.6,115.87 L102.6,118.16 L103.6,120.45 L104.6,122.71 L105.6,124.95 L106.6,127.19 L107.6,129.43 L108.6,131.67 L109.6,133.87 L110.6,136.03 L111.6,138.12 L112.6,140.11 L113.6,142.03 L114.6,143.90 L115.6,145.72 L116.6,147.49 L117.6,149.21 L118.6,150.88 L119.6,152.51 L120.6,154.04 L121.6,155.52 L122.6,156.98 L123.6,158.45 L124.6,159.97 L125.6,161.56 L126.6,163.27 L127.6,165.06 L128.6,166.87 L129.6,168.64 L130.6,170.32 L131.6,171.85 L132.6,173.28 L133.6,174.64 L134.6,175.94 L135.6,177.21 L136.6,178.46 L137.6,179.70 L138.6,180.95 L139.6,182.21 L140.6,183.47 L141.6,184.70 L142.6,185.90 L143.6,187.05 L144.6,188.13 L145.6,189.12 L146.6,190.01 L147.6,190.85 L148.6,191.66 L149.6,192.49 L150.6,193.37 L151.6,194.35 L152.6,195.47 L153.6,196.72 L154.6,198.02 L155.6,199.32 L156.6,200.54 L157.6,201.63 L158.6,202.60 L159.6,203.52 L160.6,204.40 L161.6,205.23 L162.6,206.03 L163.6,206.79 L164.6,207.53 L165.6,208.22 L166.6,208.88 L167.6,209.50 L168.6,210.12 L169.6,210.73 L170.6,211.36 L171.6,212.01 L172.6,212.69 L173.6,213.39 L174.6,214.09 L175.6,214.78 L176.6,215.44 L177.6,216.07 L178.6,216.64 L179.6,217.18 L180.6,217.69 L181.6,218.19 L182.6,218.67 L183.6,219.15 L184.6,219.61 L185.6,220.08 L186.6,220.54 L187.6,221.00 L188.6,221.44 L189.6,221.86 L190.6,222.26 L191.6,222.65 L192.6,223.01 L193.6,223.35 L194.6,223.68 L195.6,224.02 L196.6,224.35 L197.6,224.70 L198.6,225.06 L199.6,225.43 L200.6,225.80 L201.6,226.17 L202.6,226.53 L203.6,226.88 L204.6,227.22 L205.6,227.55 L206.6,227.88 L207.6,228.19 L208.6,228.50 L209.6,228.80 L210.6,229.10 L211.6,229.40 L212.6,229.70 L213.6,229.99 L214.6,230.28 L215.6,230.55 L216.6,230.81 L217.6,231.05 L218.6,231.28 L219.6,231.49 L220.6,231.70 L221.6,231.90 L222.6,232.09 L223.6,232.28 L224.6,232.45 L225.6,232.61 L226.6,232.77 L227.6,232.92 L228.6,233.07 L229.6,233.21 L230.6,233.36 L231.6,233.50 L232.6,233.66 L233.6,233.81 L234.6,233.96 L235.6,234.09 L236.6,234.22 L237.6,234.33 L238.6,234.43 L239.6,234.52 L240.6,234.61 L241.6,234.69 L242.6,234.76 L243.6,234.83 L244.6,234.89 L245.6,234.94 L246.6,234.99 L247.6,235.03 L248.6,235.08 L249.6,235.11 L250.6,235.15 L251.6,235.19 L252.6,235.23 L253.6,235.26 L254.6,235.30 L255.6,235.32 L256.6,235.33 L257.6,235.33 L258.6,235.32 L259.6,235.32 L260.6,235.31 L261.6,235.30 L262.6,235.28 L263.6,235.27 L264.6,235.26 L265.6,235.24 L266.6,235.23 L267.6,235.21 L268.6,235.20 L269.6,235.19 L270.6,235.18 L271.6,235.17 L272.6,235.15 L273.6,235.14 L274.6,235.13 L275.6,235.12 L276.6,235.11 L277.6,235.09 L278.6,235.08 L279.6,235.07 L280.6,235.05 L281.6,235.04 L282.6,235.03 L283.6,235.02 L284.6,235.00 L285.6,234.99 L286.6,234.98 L287.6,234.97 L288.6,234.96 L289.6,234.94 L290.6,234.93 L291.6,234.92 L292.6,234.91 L293.6,234.90 L294.6,234.89 L295.6,234.88 L296.6,234.88 L297.6,234.87 L298.6,234.86 L299.6,234.85 L300.6,234.85 L301.6,234.84 L302.6,234.83 L303.6,234.83 L304.6,234.82 L305.6,234.82 L306.6,234.81 L307.6,234.81 L308.6,234.80 L309.6,234.80 L310.6,234.80 L311.6,234.79 L312.6,234.79 L313.6,234.78 L314.6,234.78 L315.6,234.78 L316.6,234.77 L317.6,234.77 L318.6,234.77 L319.6,234.76 L320.6,234.76 L321.6,234.76 L322.6,234.76 L323.6,234.75 L324.6,234.75 L325.6,234.75 L326.6,234.74 L327.6,234.74 L328.6,234.74 L329.6,234.74 L330.6,234.73 L331.6,234.73 L332.6,234.73 L333.6,234.72 L334.6,234.72 L335.6,234.72 L336.6,234.72 L337.6,234.71 L338.6,234.71 L339.6,234.71 L340.6,234.70 L341.6,234.70 L342.6,234.70 L343.6,234.69 L344.6,234.69 L345.6,234.68 L346.6,234.68 L347.6,234.67 L348.6,234.67 L349.6,234.67 L350.6,234.66 L351.6,234.65 L352.6,234.65 L353.6,234.64 L354.6,234.64 L355.6,234.63 L356.6,234.62 L357.6,234.62 L358.6,234.61 L359.6,234.60 L360.6,234.59 L361.6,234.58 L362.6,234.57 L363.6,234.55 L364.6,234.54 L365.6,234.51 L366.6,234.49 L367.6,234.46 L368.6,234.44 L369.6,234.41 L370.6,234.38 L371.6,234.35 L372.6,234.31 L373.6,234.28 L374.6,234.24 L375.6,234.20 L376.6,234.17 L377.6,234.13 L378.6,234.09 L379.6,234.05 L380.6,234.01 L381.6,233.97 L382.6,233.93 L383.6,233.89 L384.6,233.85 L385.6,233.81 L386.6,233.78 L387.6,233.74 L388.6,233.70 L389.6,233.67 L390.6,233.63 L391.6,233.60 L392.6,233.57 L393.6,233.54 L394.6,233.51 L395.6,233.49 L396.6,233.46 L397.6,233.44 L398.6,233.42 L399.6,233.41 L400.6,233.39 L401.6,233.38 L402.6,233.36 L403.6,233.35 L404.6,233.33 L405.6,233.32 L406.6,233.31 L407.6,233.29 L408.6,233.28 L409.6,233.27 L410.6,233.25 L411.6,233.24 L412.6,233.23 L413.6,233.21 L414.6,233.20 L415.6,233.19 L416.6,233.17 L417.6,233.16 L418.6,233.15 L419.6,233.13 L420.6,233.12 L421.6,233.11 L422.6,233.10 L423.6,233.09 L424.6,233.07 L425.6,233.06 L426.6,233.05 L427.6,233.04 L428.6,233.03 L429.6,233.02 L430.6,233.00 L431.6,232.99 L432.6,232.98 L433.6,232.97 L434.6,232.96 L435.6,232.95 L436.6,232.94 L437.6,232.93 L438.6,232.92 L439.6,232.91 L440.6,232.90 L441.6,232.89 L442.6,232.88 L443.6,232.88 L444.6,232.87 L445.6,232.86 L446.6,232.85 L447.6,232.84 L448.6,232.83 L449.6,232.83 L450.6,232.82 L451.6,232.81 L452.6,232.80 L453.6,232.80 L454.6,232.79 L455.6,232.78 L456.6,232.78 L457.6,232.77 L458.6,232.77 L459.6,232.76 L460.6,232.76 L461.6,232.75 L462.6,232.75 L463.6,232.74 L464.6,232.74 L465.6,232.73 L466.6,232.73 L467.6,232.73 L468.6,232.72 L469.6,232.72 L470.6,232.72 L471.6,232.71 L472.6,232.71 L473.6,232.71 L474.6,232.71 L475.6,232.71 L476.6,232.71 L477.6,232.70 L478.6,232.70 L479.6,232.70 L480.6,232.70 L481.6,232.70 L482.6,232.70 L483.6,232.70 L484.6,232.70 L485.6,232.70 L486.6,232.70 L487.6,232.70 L488.6,232.70 L489.6,232.70 L490.6,232.70 L491.6,232.70 L492.6,232.70 L493.6,232.70 L494.6,232.70 L495.6,232.70 L496.6,232.70 L497.6,232.70 L498.6,232.70 L499.6,232.70 L500.6,232.70 L501.6,232.70 L502.6,232.70 L503.6,232.70 L504.6,232.70 L505.6,232.70 L506.6,232.70 L507.6,232.70 L508.6,232.70 L509.6,232.70 L510.6,232.70 L511.6,232.70 L512.6,232.70 L513.6,232.70 L514.6,232.70 L515.6,232.70 L516.6,232.70 L517.6,232.70 L518.6,232.70 L519.6,232.70 L520.6,232.70 L521.6,232.70 L522.6,232.70 L523.6,232.70 L524.6,232.70 L525.6,232.70 L526.6,232.70 L527.6,232.70 L528.6,232.70 L529.6,232.70 L530.6,232.70 L531.6,232.70 L532.6,232.70 L533.6,232.70 L534.6,232.70 L535.6,232.70 L536.6,232.70 L537.6,232.70 L538.6,232.70 L539.6,232.70 L540.6,232.70 L541.6,232.70 L542.6,232.70 L543.6,232.70 L544.6,232.70 L545.6,232.70 L546.6,232.70 L547.6,232.70 L548.6,232.70 L549.6,232.70 L550.6,232.70 L551.6,232.70 L552.6,232.70 L553.6,232.70 L554.6,232.70 L555.6,232.70 L556.6,232.70 L557.6,232.70 L558.6,232.70 L559.6,232.70 L560.6,232.70 L561.6,232.70 L562.6,232.70 L563.6,232.70 L564.6,232.70 L565.6,232.70 L566.6,232.70 L567.6,232.70 L568.6,232.70 L569.6,232.70 L570.6,232.70 L571.6,232.70 L572.6,232.70 L573.6,232.70 L574.6,232.70 L575.6,232.70 L576.6,232.70 L577.6,232.70 L578.6,232.70 L579.6,232.70 L580.6,232.70 L581.6,232.70 L582.6,232.70 L583.6,232.70 L584.6,232.70 L585.6,232.70 L586.6,232.70 L587.6,232.70 L588.6,232.70 L589.6,232.70 L590.6,232.70 L591.6,232.70 L592.6,232.70 L593.6,232.70 L594.6,232.70 L595.6,232.70 L596.6,232.70 L597.6,232.70 L598.6,232.70 L599.6,232.70 L600.6,232.70 L601.6,232.70 L602.6,232.70 L603.6,232.70 L604.6,232.70 L605.6,232.70 L606.6,232.70 L607.6,232.70 L608.6,232.70 L609.6,232.70 L610.6,232.70 L611.6,232.70 L612.6,232.70 L613.6,232.70 L614.6,232.70 L615.6,232.70 L616.6,232.70 L617.6,232.70 L618.6,232.70 L619.6,232.70 L620.6,232.70 L621.6,232.70 L622.6,232.70 L623.6,232.70 L624.6,232.70 L625.6,232.70 L626.6,232.70 L627.6,232.70 L628.6,232.70 L629.6,232.70 L630.6,232.70 L631.6,232.70" fill="none" stroke="#000" stroke-width="2.5" stroke-dasharray="5.5,2.3"/>
<path d="M46.6,354.59 L47.6,335.42 L48.6,316.67 L49.6,298.36 L50.6,280.31 L51.6,262.39 L52.6,245.37 L53.6,229.87 L54.6,214.98 L55.6,200.55 L56.6,186.77 L57.6,173.84 L58.6,161.95 L59.6,151.30 L60.6,141.69 L61.6,132.46 L62.6,123.78 L63.6,115.81 L64.6,108.73 L65.6,102.70 L66.6,97.88 L67.6,93.58 L68.6,89.53 L69.6,85.88 L70.6,82.80 L71.6,80.43 L72.6,78.94 L73.6,78.21 L74.6,77.61 L75.6,77.09 L76.6,76.67 L77.6,76.35 L78.6,76.16 L79.6,76.11 L80.6,76.47 L81.6,77.34 L82.6,78.58 L83.6,80.06 L84.6,81.65 L85.6,83.21 L86.6,84.65 L87.6,86.16 L88.6,87.77 L89.6,89.47 L90.6,91.26 L91.6,93.12 L92.6,95.06 L93.6,97.11 L94.6,99.34 L95.6,101.68 L96.6,104.10 L97.6,106.54 L98.6,108.94 L99.6,111.27 L100.6,113.57 L101.6,115.87 L102.6,118.16 L103.6,120.45 L104.6,122.71 L105.6,124.95 L106.6,127.19 L107.6,129.43 L108.6,131.67 L109.6,133.87 L110.6,136.03 L111.6,138.12 L112.6,140.11 L113.6,142.03 L114.6,143.90 L115.6,145.72 L116.6,147.49 L117.6,149.21 L118.6,150.88 L119.6,152.51 L120.6,154.04 L121.6,155.52 L122.6,156.98 L123.6,158.45 L124.6,159.97 L125.6,161.56 L126.6,163.27 L127.6,165.06 L128.6,166.87 L129.6,168.64 L130.6,170.32 L131.6,171.85 L132.6,173.28 L133.6,174.64 L134.6,175.94 L135.6,177.21 L136.6,178.46 L137.6,179.70 L138.6,180.95 L139.6,182.21 L140.6,183.47 L141.6,184.70 L142.6,185.90 L143.6,187.05 L144.6,188.13 L145.6,189.12 L146.6,190.01 L147.6,190.85 L148.6,191.66 L149.6,192.49 L150.6,193.37 L151.6,194.35 L152.6,195.47 L153.6,196.72 L154.6,198.02 L155.6,199.32 L156.6,200.54 L157.6,201.63 L158.6,202.60 L159.6,203.52 L160.6,204.40 L161.6,205.23 L162.6,206.03 L163.6,206.79 L164.6,207.53 L165.6,208.22 L166.6,208.88 L167.6,209.50 L168.6,210.12 L169.6,210.73 L170.6,211.36 L171.6,212.01 L172.6,212.69 L173.6,213.39 L174.6,214.09 L175.6,214.78 L176.6,215.44 L177.6,216.07 L178.6,216.64 L179.6,217.18 L180.6,217.69 L181.6,218.19 L182.6,218.67 L183.6,219.15 L184.6,219.61 L185.6,220.08 L186.6,220.54 L187.6,221.00 L188.6,221.44 L189.6,221.86 L190.6,222.26 L191.6,222.65 L192.6,223.01 L193.6,223.35 L194.6,223.68 L195.6,224.02 L196.6,224.35 L197.6,224.70 L198.6,225.06 L199.6,225.43 L200.6,225.80 L201.6,226.17 L202.6,226.53 L203.6,226.88 L204.6,227.22 L205.6,227.55 L206.6,227.88 L207.6,228.19 L208.6,228.50 L209.6,228.80 L210.6,229.10 L211.6,229.40 L212.6,229.70 L213.6,229.99 L214.6,230.28 L215.6,230.55 L216.6,230.81 L217.6,231.05 L218.6,231.28 L219.6,231.49 L220.6,231.70 L221.6,231.90 L222.6,232.09 L223.6,232.28 L224.6,232.45 L225.6,232.61 L226.6,232.77 L227.6,232.92 L228.6,233.07 L229.6,233.21 L230.6,233.36 L231.6,233.50 L232.6,233.66 L233.6,233.81 L234.6,233.96 L235.6,234.09 L236.6,234.22 L237.6,234.33 L238.6,234.43 L239.6,234.52 L240.6,234.61 L241.6,234.69 L242.6,234.76 L243.6,234.83 L244.6,234.89 L245.6,234.94 L246.6,234.99 L247.6,235.03 L248.6,235.08 L249.6,235.11 L250.6,235.15 L251.6,235.19 L252.6,235.23 L253.6,235.26 L254.6,235.30 L255.6,235.32 L256.6,235.33 L257.6,235.33 L258.6,235.32 L259.6,235.32 L260.6,235.31 L261.6,235.30 L262.6,235.28 L263.6,235.27 L264.6,235.26 L265.6,235.24 L266.6,235.23 L267.6,235.21 L268.6,235.20 L269.6,235.19 L270.6,235.18 L271.6,235.17 L272.6,235.15 L273.6,235.14 L274.6,235.13 L275.6,235.12 L276.6,235.11 L277.6,235.09 L278.6,235.08 L279.6,235.07 L280.6,235.05 L281.6,235.04 L282.6,235.03 L283.6,235.02 L284.6,235.00 L285.6,234.99 L286.6,234.98 L287.6,234.97 L288.6,234.96 L289.6,234.94 L290.6,234.93 L291.6,234.92 L292.6,234.91 L293.6,234.90 L294.6,234.89 L295.6,234.88 L296.6,234.88 L297.6,234.87 L298.6,234.86 L299.6,234.85 L300.6,234.85 L301.6,234.84 L302.6,234.83 L303.6,234.83 L304.6,234.82 L305.6,234.82 L306.6,234.81 L307.6,234.81 L308.6,234.80 L309.6,234.80 L310.6,234.80 L311.6,234.79 L312.6,234.79 L313.6,234.78 L314.6,234.78 L315.6,234.78 L316.6,234.77 L317.6,234.77 L318.6,234.77 L319.6,234.76 L320.6,234.76 L321.6,234.76 L322.6,234.76 L323.6,234.75 L324.6,234.75 L325.6,234.75 L326.6,234.74 L327.6,234.74 L328.6,234.74 L329.6,234.74 L330.6,234.73 L331.6,234.73 L332.6,234.73 L333.6,234.72 L334.6,234.72 L335.6,234.72 L336.6,234.72 L337.6,234.71 L338.6,234.71 L339.6,234.71 L340.6,234.70 L341.6,234.70 L342.6,234.70 L343.6,234.69 L344.6,234.69 L345.6,234.68 L346.6,234.68 L347.6,234.67 L348.6,234.67 L349.6,234.67 L350.6,234.66 L351.6,234.65 L352.6,234.65 L353.6,234.64 L354.6,234.64 L355.6,234.63 L356.6,234.62 L357.6,234.62 L358.6,234.61 L359.6,234.60 L360.6,234.59 L361.6,234.58 L362.6,234.57 L363.6,234.55 L364.6,234.54 L365.6,234.51 L366.6,234.49 L367.6,234.46 L368.6,234.44 L369.6,234.41 L370.6,234.38 L371.6,234.35 L372.6,234.31 L373.6,234.28 L374.6,234.24 L375.6,234.20 L376.6,234.17 L377.6,234.13 L378.6,234.09 L379.6,234.05 L380.6,234.01 L381.6,233.97 L382.6,233.93 L383.6,233.89 L384.6,233.85 L385.6,233.81 L386.6,233.78 L387.6,233.74 L388.6,233.70 L389.6,233.67 L390.6,233.63 L391.6,233.60 L392.6,233.57 L393.6,233.54 L394.6,233.51 L395.6,233.49 L396.6,233.46 L397.6,233.44 L398.6,233.42 L399.6,233.41 L400.6,233.39 L401.6,233.38 L402.6,233.36 L403.6,233.35 L404.6,233.33 L405.6,233.32 L406.6,233.31 L407.6,233.29 L408.6,233.28 L409.6,233.27 L410.6,233.25 L411.6,233.24 L412.6,233.23 L413.6,233.21 L414.6,233.20 L415.6,233.19 L416.6,233.17 L417.6,233.16 L418.6,233.15 L419.6,233.13 L420.6,233.12 L421.6,233.11 L422.6,233.10 L423.6,233.09 L424.6,233.07 L425.6,233.06 L426.6,233.05 L427.6,233.04 L428.6,233.03 L429.6,233.02 L430.6,233.00 L431.6,232.99 L432.6,232.98 L433.6,232.97 L434.6,232.96 L435.6,232.95 L436.6,232.94 L437.6,232.93 L438.6,232.92 L439.6,232.91 L440.6,232.90 L441.6,232.89 L442.6,232.88 L443.6,232.88 L444.6,232.87 L445.6,232.86 L446.6,232.85 L447.6,232.84 L448.6,232.83 L449.6,232.83 L450.6,232.82 L451.6,232.81 L452.6,232.80 L453.6,232.80 L454.6,232.79 L455.6,232.78 L456.6,232.78 L457.6,232.77 L458.6,232.77 L459.6,232.76 L460.6,232.76 L461.6,232.75 L462.6,232.75 L463.6,232.74 L464.6,232.74 L465.6,232.73 L466.6,232.73 L467.6,232.73 L468.6,232.72 L469.6,232.72 L470.6,232.72 L471.6,232.71 L472.6,232.71 L473.6,232.71 L474.6,232.71 L475.6,232.71 L476.6,232.71 L477.6,232.70 L478.6,232.70 L479.6,232.70 L480.6,232.70 L481.6,232.70 L482.6,232.70 L483.6,232.70 L484.6,232.70 L485.6,232.70 L486.6,232.70 L487.6,232.70 L488.6,232.70 L489.6,232.70 L490.6,232.70 L491.6,232.70 L492.6,232.70 L493.6,232.70 L494.6,232.70 L495.6,232.70 L496.6,232.70 L497.6,232.70 L498.6,232.70 L499.6,232.70 L500.6,232.70 L501.6,232.70 L502.6,232.70 L503.6,232.70 L504.6,232.70 L505.6,232.70 L506.6,232.70 L507.6,232.70 L508.6,232.70 L509.6,232.70 L510.6,232.70 L511.6,232.70 L512.6,232.70 L513.6,232.70 L514.6,232.70 L515.6,232.70 L516.6,232.70 L517.6,232.70 L518.6,232.70 L519.6,232.70 L520.6,232.70 L521.6,232.70 L522.6,232.70 L523.6,232.70 L524.6,232.70 L525.6,232.70 L526.6,232.70 L527.6,232.70 L528.6,232.70 L529.6,232.70 L530.6,232.70 L531.6,232.70 L532.6,232.70 L533.6,232.70 L534.6,232.70 L535.6,232.70 L536.6,232.70 L537.6,232.70 L538.6,232.70 L539.6,232.70 L540.6,232.70 L541.6,232.70 L542.6,232.70 L543.6,232.70 L544.6,232.70 L545.6,232.70 L546.6,232.70 L547.6,232.70 L548.6,232.70 L549.6,232.70 L550.6,232.70 L551.6,232.70 L552.6,232.70 L553.6,232.70 L554.6,232.70 L555.6,232.70 L556.6,232.70 L557.6,232.70 L558.6,232.70 L559.6,232.70 L560.6,232.70 L561.6,232.70 L562.6,232.70 L563.6,232.70 L564.6,232.70 L565.6,232.70 L566.6,232.70 L567.6,232.70 L568.6,232.70 L569.6,232.70 L570.6,232.70 L571.6,232.70 L572.6,232.70 L573.6,232.70 L574.6,232.70 L575.6,232.70 L576.6,232.70 L577.6,232.70 L578.6,232.70 L579.6,232.70 L580.6,232.70 L581.6,232.70 L582.6,232.70 L583.6,232.70 L584.6,232.70 L585.6,232.70 L586.6,232.70 L587.6,232.70 L588.6,232.70 L589.6,232.70 L590.6,232.70 L591.6,232.70 L592.6,232.70 L593.6,232.70 L594.6,232.70 L595.6,232.70 L596.6,232.70 L597.6,232.70 L598.6,232.70 L599.6,232.70 L600.6,232.70 L601.6,232.70 L602.6,232.70 L603.6,232.70 L604.6,232.70 L605.6,232.70 L606.6,232.70 L607.6,232.70 L608.6,232.70 L609.6,232.70 L610.6,232.70 L611.6,232.70 L612.6,232.70 L613.6,232.70 L614.6,232.70 L615.6,232.70 L616.6,232.70 L617.6,232.70 L618.6,232.70 L619.6,232.70 L620.6,232.70 L621.6,232.70 L622.6,232.70 L623.6,232.70 L624.6,232.70 L625.6,232.70 L626.6,232.70 L627.6,232.70 L628.6,232.70 L629.6,232.70 L630.6,232.70 L631.6,232.70" fill="none" stroke="#0000ff" stroke-width="1.2" stroke-dasharray="5.5,2.3"/>
<path d="M46.60,354.60 L46.70,353.10 L46.80,351.61 L46.90,350.11 L47.00,348.61 L47.09,347.12 L47.19,345.62 L47.29,344.12 L47.39,342.63 L47.48,341.13 L47.58,339.63 L47.67,338.13 L47.77,336.64 L47.86,335.14 L47.96,333.64 L48.05,332.15 L48.15,330.65 L48.24,329.15 L48.33,327.66 L48.42,326.16 L48.52,324.66 L48.61,323.16 L48.70,321.67 L48.79,320.17 L48.88,318.67 L48.97,317.17 L49.06,315.68 L49.14,314.18 L49.23,312.68 L49.32,311.19 L49.41,309.69 L49.49,308.19 L49.58,306.69 L49.66,305.19 L49.75,303.70 L49.83,302.20 L49.91,300.70 L50.00,299.20 L50.08,297.71 L50.17,296.21 L50.25,294.71 L50.33,293.21 L50.42,291.72 L50.50,290.22 L50.59,288.72 L50.67,287.22 L50.75,285.73 L50.84,284.23 L50.92,282.73 L51.01,281.23 L51.09,279.74 L51.18,278.24 L51.27,276.74 L51.35,275.24 L51.44,273.75 L51.53,272.25 L51.62,270.75 L51.70,269.25 L51.79,267.76 L51.88,266.26 L51.97,264.76 L52.06,263.26 L52.15,261.77 L52.25,260.27 L52.34,258.77 L52.43,257.27 L52.52,255.78 L52.61,254.28 L52.70,252.78 L52.80,251.29 L52.89,249.79 L52.98,248.29 L53.07,246.79 L53.17,245.30 L53.26,243.80 L53.36,242.30 L53.45,240.81 L53.54,239.31 L53.64,237.81 L53.73,236.32 L53.83,234.82 L53.92,233.32 L54.02,231.82 L54.11,230.33 L54.21,228.83 L54.30,227.33 L54.40,225.84 L54.50,224.34 L54.59,222.84 L54.69,221.35 L54.78,219.85 L54.88,218.35 L54.98,216.86 L55.08,215.36 L55.17,213.86 L55.27,212.36 L55.37,210.87 L55.47,209.37 L55.57,207.87 L55.67,206.38 L55.77,204.88 L55.87,203.38 L55.97,201.89 L56.07,200.39 L56.18,198.90 L56.28,197.40 L56.38,195.90 L56.48,194.41 L56.58,192.91 L56.68,191.41 L56.78,189.92 L56.88,188.42 L56.99,186.92 L57.09,185.43 L57.19,183.93 L57.29,182.43 L57.39,180.94 L57.49,179.44 L57.60,177.94 L57.70,176.45 L57.80,174.95 L57.91,173.45 L58.01,171.96 L58.12,170.46 L58.23,168.97 L58.33,167.47 L58.44,165.97 L58.55,164.48 L58.66,162.98 L58.78,161.49 L58.89,159.99 L59.01,158.49 L59.12,157.00 L59.24,155.50 L59.37,154.01 L59.49,152.51 L59.62,151.02 L59.75,149.52 L59.88,148.03 L60.01,146.54 L60.14,145.04 L60.28,143.55 L60.42,142.06 L60.56,140.56 L60.70,139.07 L60.84,137.58 L60.99,136.08 L61.13,134.59 L61.28,133.10 L61.43,131.60 L61.59,130.11 L61.74,128.62 L61.90,127.13 L62.06,125.64 L62.22,124.15 L62.39,122.66 L62.56,121.17 L62.74,119.68 L62.91,118.19 L63.10,116.70 L63.28,115.21 L63.47,113.72 L63.66,112.23 L63.86,110.75 L64.05,109.26 L64.26,107.77 L64.46,106.29 L64.68,104.80 L64.89,103.32 L65.12,101.84 L65.36,100.35 L65.61,98.88 L65.87,97.40 L66.15,95.93 L66.44,94.45 L66.75,92.99 L67.07,91.52 L67.40,90.06 L67.75,88.60 L68.13,87.15 L68.53,85.71 L68.99,84.29 L69.52,82.90 L70.13,81.56 L70.86,80.29 L71.72,79.14 L72.72,78.15 L73.85,77.38 L75.08,76.91 L76.38,76.77 L77.69,76.96 L78.95,77.46 L80.14,78.21 L81.25,79.15 L82.26,80.21 L83.19,81.36 L84.06,82.57 L84.89,83.82 L85.67,85.09 L86.44,86.38 L87.17,87.69 L87.89,89.01 L88.58,90.34 L89.25,91.68 L89.90,93.03 L90.52,94.39 L91.13,95.76 L91.71,97.14 L92.28,98.53 L92.82,99.93 L93.35,101.34 L93.86,102.74 L94.36,104.16 L94.86,105.57 L95.36,106.99 L95.86,108.40 L96.37,109.81 L96.87,111.22 L97.39,112.63 L97.90,114.04 L98.42,115.45 L98.93,116.86 L99.45,118.27 L99.97,119.68 L100.49,121.08 L101.00,122.49 L101.51,123.90 L102.03,125.31 L102.54,126.72 L103.05,128.13 L103.55,129.54 L104.06,130.96 L104.56,132.37 L105.07,133.78 L105.57,135.19 L106.08,136.61 L106.58,138.02 L107.08,139.43 L107.59,140.84 L108.10,142.26 L108.61,143.67 L109.12,145.08 L109.63,146.49 L110.15,147.89 L110.67,149.30 L111.20,150.71 L111.72,152.11 L112.25,153.51 L112.78,154.92 L113.31,156.32 L113.85,157.72 L114.38,159.12 L114.91,160.53 L115.45,161.93 L115.99,163.33 L116.53,164.73 L117.07,166.13 L117.62,167.52 L118.17,168.92 L118.72,170.31 L119.28,171.70 L119.85,173.09 L120.42,174.48 L121.00,175.86 L121.58,177.24 L122.17,178.62 L122.76,180.00 L123.36,181.38 L123.96,182.75 L124.57,184.12 L125.17,185.50 L125.79,186.87 L126.40,188.24 L127.01,189.60 L127.62,190.97 L128.24,192.34 L128.85,193.71 L129.46,195.08 L130.07,196.45 L130.67,197.82 L131.28,199.20 L131.88,200.57 L132.48,201.95 L133.08,203.32 L133.67,204.70 L134.27,206.07 L134.88,207.45 L135.48,208.82 L136.10,210.19 L136.72,211.55 L137.35,212.91 L137.98,214.27 L138.62,215.63 L139.27,216.98 L139.94,218.33 L140.61,219.67 L141.30,221.00 L142.01,222.32 L142.73,223.63 L143.47,224.94 L144.22,226.23 L144.99,227.52 L145.78,228.80 L146.57,230.07 L147.37,231.34 L148.18,232.60 L149.00,233.86 L149.83,235.11 L150.67,236.35 L151.52,237.59 L152.37,238.82 L153.25,240.04 L154.13,241.25 L155.03,242.45 L155.94,243.64 L156.87,244.82 L157.81,245.99 L158.77,247.14 L159.74,248.28 L160.73,249.41 L161.74,250.51 L162.77,251.60 L163.82,252.67 L164.89,253.73 L165.97,254.77 L167.06,255.79 L168.18,256.79 L169.32,257.76 L170.49,258.70 L171.68,259.61 L172.89,260.48 L174.13,261.32 L175.40,262.11 L176.70,262.86 L178.02,263.56 L179.37,264.21 L180.74,264.81 L182.13,265.37 L183.53,265.88 L184.95,266.35 L186.39,266.76 L187.84,267.11 L189.31,267.39 L190.79,267.61 L192.27,267.76 L193.77,267.88 L195.26,267.96 L196.76,268.00 L198.26,268.01 L199.75,267.97 L201.25,267.89 L202.74,267.75 L204.23,267.57 L205.71,267.35 L207.18,267.10 L208.65,266.80 L210.11,266.47 L211.56,266.10 L213.01,265.70 L214.45,265.28 L215.88,264.85 L217.32,264.41 L218.75,263.97 L220.19,263.53 L221.62,263.09 L223.05,262.64 L224.48,262.18 L225.90,261.72 L227.33,261.25 L228.75,260.78 L230.17,260.30 L231.59,259.81 L233.01,259.32 L234.43,258.83 L235.85,258.34 L237.26,257.85 L238.68,257.36 L240.10,256.87 L241.52,256.40 L242.95,255.94 L244.38,255.50 L245.82,255.06 L247.26,254.64 L248.70,254.23 L250.14,253.83 L251.59,253.44 L253.05,253.08 L254.51,252.73 L255.97,252.40 L257.44,252.09 L258.91,251.80 L260.38,251.52 L261.86,251.26 L263.34,251.01 L264.82,250.78 L266.30,250.56 L267.79,250.35 L269.27,250.15 L270.76,249.96 L272.25,249.78 L273.74,249.61 L275.23,249.45 L276.72,249.30 L278.22,249.17 L279.71,249.04 L281.21,248.92 L282.70,248.81 L284.20,248.71 L285.70,248.60 L287.19,248.51 L288.69,248.41 L290.19,248.33 L291.69,248.25 L293.18,248.18 L294.68,248.13 L296.18,248.08 L297.68,248.05 L299.18,248.02 L300.68,248.01 L302.18,248.01 L303.68,248.00 L305.18,248.01 L306.68,248.01 L308.18,248.01 L309.68,248.01 L311.18,248.02 L312.68,248.02 L314.18,248.03 L315.68,248.03 L317.18,248.04 L318.68,248.04 L320.18,248.05 L321.68,248.06 L323.18,248.06 L324.68,248.07 L326.18,248.08 L327.68,248.09 L329.18,248.10 L330.68,248.11 L332.18,248.13 L333.68,248.15 L335.18,248.17 L336.68,248.20 L338.18,248.23 L339.68,248.26 L341.18,248.30 L342.68,248.34 L344.18,248.38 L345.68,248.42 L347.18,248.46 L348.68,248.50 L350.18,248.55 L351.67,248.59 L353.17,248.63 L354.67,248.67 L356.17,248.71 L357.67,248.74 L359.17,248.78 L360.67,248.81 L362.17,248.84 L363.67,248.88 L365.17,248.91 L366.67,248.94 L368.17,248.97 L369.67,249.00 L371.17,249.03 L372.67,249.06 L374.17,249.09 L375.67,249.12 L377.17,249.15 L378.67,249.18 L380.17,249.21 L381.67,249.24 L383.17,249.27 L384.67,249.29 L386.17,249.32 L387.67,249.34 L389.17,249.37 L390.67,249.39 L392.17,249.41 L393.67,249.43 L395.17,249.45 L396.67,249.46 L398.17,249.48 L399.67,249.49 L401.17,249.51 L402.67,249.52 L404.17,249.53 L405.67,249.54 L407.17,249.55 L408.67,249.57 L410.17,249.58 L411.67,249.59 L413.17,249.60 L414.67,249.61 L416.17,249.62 L417.67,249.63 L419.17,249.64 L420.67,249.65 L422.17,249.66 L423.67,249.67 L425.17,249.68 L426.67,249.69 L428.17,249.70 L429.67,249.71 L431.17,249.72 L432.67,249.72 L434.17,249.73 L435.67,249.74 L437.17,249.75 L438.67,249.75 L440.17,249.76 L441.67,249.76 L443.17,249.77 L444.67,249.77 L446.16,249.78 L447.66,249.78 L449.16,249.79 L450.66,249.79 L452.16,249.79 L453.66,249.79 L455.16,249.80 L456.66,249.80 L458.16,249.80 L459.66,249.80 L461.16,249.80 L462.66,249.80 L464.16,249.80 L465.66,249.80 L467.16,249.80 L468.66,249.80 L470.16,249.80 L471.66,249.80 L472.66,249.80 L473.66,249.80 L474.66,249.80 L475.66,249.80 L476.66,249.80 L477.66,249.80 L478.66,249.80 L479.66,249.80 L480.66,249.80 L481.66,249.80 L482.66,249.80 L483.66,249.80 L484.66,249.80 L485.66,249.80 L486.66,249.80 L487.66,249.80 L488.66,249.80 L489.66,249.80 L490.66,249.80 L491.66,249.80 L492.66,249.80 L493.66,249.80 L494.66,249.80 L495.66,249.80 L496.66,249.80 L497.66,249.80 L498.66,249.80 L499.66,249.80 L500.66,249.80 L501.66,249.80 L502.66,249.80 L503.66,249.80 L504.66,249.80 L505.66,249.80 L506.66,249.80 L507.66,249.80 L508.66,249.80 L509.66,249.80 L510.66,249.80 L511.66,249.80 L512.66,249.80 L513.66,249.80 L514.66,249.80 L515.66,249.80 L516.66,249.80 L517.66,249.80 L518.66,249.80 L519.66,249.80 L520.66,249.80 L521.66,249.80 L523.16,249.80 L524.16,249.80 L525.16,249.80 L526.16,249.80 L527.16,249.80 L528.66,249.80 L529.66,249.80 L530.66,249.80 L531.66,249.80 L532.66,249.80 L533.66,249.80 L534.66,249.80 L536.16,249.80 L537.66,249.80 L539.16,249.80 L540.16,249.80 L541.16,249.80 L542.16,249.80 L543.16,249.80 L544.66,249.80 L545.66,249.80 L546.66,249.80 L547.66,249.80 L549.16,249.80 L550.66,249.80 L551.66,249.80 L553.16,249.80 L554.16,249.80 L555.16,249.80 L556.16,249.80 L557.16,249.80 L558.16,249.80 L559.16,249.80 L560.66,249.80 L562.16,249.80 L563.66,249.80 L564.66,249.80 L565.66,249.80 L566.66,249.80 L568.16,249.80 L569.66,249.80 L570.66,249.80 L571.66,249.80 L572.66,249.80 L573.66,249.80 L575.16,249.80 L576.16,249.80 L577.16,249.80 L578.66,249.80 L580.16,249.80 L581.16,249.80 L582.16,249.80 L583.16,249.80 L584.66,249.80 L585.66,249.80 L586.66,249.80 L588.16,249.80 L589.16,249.80 L590.66,249.80 L592.16,249.80 L593.16,249.80 L594.66,249.80 L596.16,249.80 L597.16,249.80 L598.66,249.80 L599.66,249.80 L600.66,249.80 L601.66,249.80 L602.66,249.80 L603.66,249.80 L605.16,249.80 L606.66,249.80 L607.66,249.80 L608.66,249.80 L610.16,249.80 L611.16,249.80 L612.16,249.80 L613.66,249.80 L614.66,249.80 L615.66,249.80 L617.16,249.80 L618.16,249.80 L619.16,249.80 L620.66,249.80 L622.16,249.80 L623.16,249.80 L624.16,249.80 L625.66,249.80 L627.16,249.80 L628.66,249.80 L630.16,249.80 L631.16,249.80 L631.16,249.80" fill="none" stroke="#000" stroke-width="3.2" stroke-linejoin="round"/>
<path d="M46.60,354.60 L46.70,353.10 L46.80,351.61 L46.90,350.11 L47.00,348.61 L47.09,347.12 L47.19,345.62 L47.29,344.12 L47.39,342.63 L47.48,341.13 L47.58,339.63 L47.67,338.13 L47.77,336.64 L47.86,335.14 L47.96,333.64 L48.05,332.15 L48.15,330.65 L48.24,329.15 L48.33,327.66 L48.42,326.16 L48.52,324.66 L48.61,323.16 L48.70,321.67 L48.79,320.17 L48.88,318.67 L48.97,317.17 L49.06,315.68 L49.14,314.18 L49.23,312.68 L49.32,311.19 L49.41,309.69 L49.49,308.19 L49.58,306.69 L49.66,305.19 L49.75,303.70 L49.83,302.20 L49.91,300.70 L50.00,299.20 L50.08,297.71 L50.17,296.21 L50.25,294.71 L50.33,293.21 L50.42,291.72 L50.50,290.22 L50.59,288.72 L50.67,287.22 L50.75,285.73 L50.84,284.23 L50.92,282.73 L51.01,281.23 L51.09,279.74 L51.18,278.24 L51.27,276.74 L51.35,275.24 L51.44,273.75 L51.53,272.25 L51.62,270.75 L51.70,269.25 L51.79,267.76 L51.88,266.26 L51.97,264.76 L52.06,263.26 L52.15,261.77 L52.25,260.27 L52.34,258.77 L52.43,257.27 L52.52,255.78 L52.61,254.28 L52.70,252.78 L52.80,251.29 L52.89,249.79 L52.98,248.29 L53.07,246.79 L53.17,245.30 L53.26,243.80 L53.36,242.30 L53.45,240.81 L53.54,239.31 L53.64,237.81 L53.73,236.32 L53.83,234.82 L53.92,233.32 L54.02,231.82 L54.11,230.33 L54.21,228.83 L54.30,227.33 L54.40,225.84 L54.50,224.34 L54.59,222.84 L54.69,221.35 L54.78,219.85 L54.88,218.35 L54.98,216.86 L55.08,215.36 L55.17,213.86 L55.27,212.36 L55.37,210.87 L55.47,209.37 L55.57,207.87 L55.67,206.38 L55.77,204.88 L55.87,203.38 L55.97,201.89 L56.07,200.39 L56.18,198.90 L56.28,197.40 L56.38,195.90 L56.48,194.41 L56.58,192.91 L56.68,191.41 L56.78,189.92 L56.88,188.42 L56.99,186.92 L57.09,185.43 L57.19,183.93 L57.29,182.43 L57.39,180.94 L57.49,179.44 L57.60,177.94 L57.70,176.45 L57.80,174.95 L57.91,173.45 L58.01,171.96 L58.12,170.46 L58.23,168.97 L58.33,167.47 L58.44,165.97 L58.55,164.48 L58.66,162.98 L58.78,161.49 L58.89,159.99 L59.01,158.49 L59.12,157.00 L59.24,155.50 L59.37,154.01 L59.49,152.51 L59.62,151.02 L59.75,149.52 L59.88,148.03 L60.01,146.54 L60.14,145.04 L60.28,143.55 L60.42,142.06 L60.56,140.56 L60.70,139.07 L60.84,137.58 L60.99,136.08 L61.13,134.59 L61.28,133.10 L61.43,131.60 L61.59,130.11 L61.74,128.62 L61.90,127.13 L62.06,125.64 L62.22,124.15 L62.39,122.66 L62.56,121.17 L62.74,119.68 L62.91,118.19 L63.10,116.70 L63.28,115.21 L63.47,113.72 L63.66,112.23 L63.86,110.75 L64.05,109.26 L64.26,107.77 L64.46,106.29 L64.68,104.80 L64.89,103.32 L65.12,101.84 L65.36,100.35 L65.61,98.88 L65.87,97.40 L66.15,95.93 L66.44,94.45 L66.75,92.99 L67.07,91.52 L67.40,90.06 L67.75,88.60 L68.13,87.15 L68.53,85.71 L68.99,84.29 L69.52,82.90 L70.13,81.56 L70.86,80.29 L71.72,79.14 L72.72,78.15 L73.85,77.38 L75.08,76.91 L76.38,76.77 L77.69,76.96 L78.95,77.46 L80.14,78.21 L81.25,79.15 L82.26,80.21 L83.19,81.36 L84.06,82.57 L84.89,83.82 L85.67,85.09 L86.44,86.38 L87.17,87.69 L87.89,89.01 L88.58,90.34 L89.25,91.68 L89.90,93.03 L90.52,94.39 L91.13,95.76 L91.71,97.14 L92.28,98.53 L92.82,99.93 L93.35,101.34 L93.86,102.74 L94.36,104.16 L94.86,105.57 L95.36,106.99 L95.86,108.40 L96.37,109.81 L96.87,111.22 L97.39,112.63 L97.90,114.04 L98.42,115.45 L98.93,116.86 L99.45,118.27 L99.97,119.68 L100.49,121.08 L101.00,122.49 L101.51,123.90 L102.03,125.31 L102.54,126.72 L103.05,128.13 L103.55,129.54 L104.06,130.96 L104.56,132.37 L105.07,133.78 L105.57,135.19 L106.08,136.61 L106.58,138.02 L107.08,139.43 L107.59,140.84 L108.10,142.26 L108.61,143.67 L109.12,145.08 L109.63,146.49 L110.15,147.89 L110.67,149.30 L111.20,150.71 L111.72,152.11 L112.25,153.51 L112.78,154.92 L113.31,156.32 L113.85,157.72 L114.38,159.12 L114.91,160.53 L115.45,161.93 L115.99,163.33 L116.53,164.73 L117.07,166.13 L117.62,167.52 L118.17,168.92 L118.72,170.31 L119.28,171.70 L119.85,173.09 L120.42,174.48 L121.00,175.86 L121.58,177.24 L122.17,178.62 L122.76,180.00 L123.36,181.38 L123.96,182.75 L124.57,184.12 L125.17,185.50 L125.79,186.87 L126.40,188.24 L127.01,189.60 L127.62,190.97 L128.24,192.34 L128.85,193.71 L129.46,195.08 L130.07,196.45 L130.67,197.82 L131.28,199.20 L131.88,200.57 L132.48,201.95 L133.08,203.32 L133.67,204.70 L134.27,206.07 L134.88,207.45 L135.48,208.82 L136.10,210.19 L136.72,211.55 L137.35,212.91 L137.98,214.27 L138.62,215.63 L139.27,216.98 L139.94,218.33 L140.61,219.67 L141.30,221.00 L142.01,222.32 L142.73,223.63 L143.47,224.94 L144.22,226.23 L144.99,227.52 L145.78,228.80 L146.57,230.07 L147.37,231.34 L148.18,232.60 L149.00,233.86 L149.83,235.11 L150.67,236.35 L151.52,237.59 L152.37,238.82 L153.25,240.04 L154.13,241.25 L155.03,242.45 L155.94,243.64 L156.87,244.82 L157.81,245.99 L158.77,247.14 L159.74,248.28 L160.73,249.41 L161.74,250.51 L162.77,251.60 L163.82,252.67 L164.89,253.73 L165.97,254.77 L167.06,255.79 L168.18,256.79 L169.32,257.76 L170.49,258.70 L171.68,259.61 L172.89,260.48 L174.13,261.32 L175.40,262.11 L176.70,262.86 L178.02,263.56 L179.37,264.21 L180.74,264.81 L182.13,265.37 L183.53,265.88 L184.95,266.35 L186.39,266.76 L187.84,267.11 L189.31,267.39 L190.79,267.61 L192.27,267.76 L193.77,267.88 L195.26,267.96 L196.76,268.00 L198.26,268.01 L199.75,267.97 L201.25,267.89 L202.74,267.75 L204.23,267.57 L205.71,267.35 L207.18,267.10 L208.65,266.80 L210.11,266.47 L211.56,266.10 L213.01,265.70 L214.45,265.28 L215.88,264.85 L217.32,264.41 L218.75,263.97 L220.19,263.53 L221.62,263.09 L223.05,262.64 L224.48,262.18 L225.90,261.72 L227.33,261.25 L228.75,260.78 L230.17,260.30 L231.59,259.81 L233.01,259.32 L234.43,258.83 L235.85,258.34 L237.26,257.85 L238.68,257.36 L240.10,256.87 L241.52,256.40 L242.95,255.94 L244.38,255.50 L245.82,255.06 L247.26,254.64 L248.70,254.23 L250.14,253.83 L251.59,253.44 L253.05,253.08 L254.51,252.73 L255.97,252.40 L257.44,252.09 L258.91,251.80 L260.38,251.52 L261.86,251.26 L263.34,251.01 L264.82,250.78 L266.30,250.56 L267.79,250.35 L269.27,250.15 L270.76,249.96 L272.25,249.78 L273.74,249.61 L275.23,249.45 L276.72,249.30 L278.22,249.17 L279.71,249.04 L281.21,248.92 L282.70,248.81 L284.20,248.71 L285.70,248.60 L287.19,248.51 L288.69,248.41 L290.19,248.33 L291.69,248.25 L293.18,248.18 L294.68,248.13 L296.18,248.08 L297.68,248.05 L299.18,248.02 L300.68,248.01 L302.18,248.01 L303.68,248.00 L305.18,248.01 L306.68,248.01 L308.18,248.01 L309.68,248.01 L311.18,248.02 L312.68,248.02 L314.18,248.03 L315.68,248.03 L317.18,248.04 L318.68,248.04 L320.18,248.05 L321.68,248.06 L323.18,248.06 L324.68,248.07 L326.18,248.08 L327.68,248.09 L329.18,248.10 L330.68,248.11 L332.18,248.13 L333.68,248.15 L335.18,248.17 L336.68,248.20 L338.18,248.23 L339.68,248.26 L341.18,248.30 L342.68,248.34 L344.18,248.38 L345.68,248.42 L347.18,248.46 L348.68,248.50 L350.18,248.55 L351.67,248.59 L353.17,248.63 L354.67,248.67 L356.17,248.71 L357.67,248.74 L359.17,248.78 L360.67,248.81 L362.17,248.84 L363.67,248.88 L365.17,248.91 L366.67,248.94 L368.17,248.97 L369.67,249.00 L371.17,249.03 L372.67,249.06 L374.17,249.09 L375.67,249.12 L377.17,249.15 L378.67,249.18 L380.17,249.21 L381.67,249.24 L383.17,249.27 L384.67,249.29 L386.17,249.32 L387.67,249.34 L389.17,249.37 L390.67,249.39 L392.17,249.41 L393.67,249.43 L395.17,249.45 L396.67,249.46 L398.17,249.48 L399.67,249.49 L401.17,249.51 L402.67,249.52 L404.17,249.53 L405.67,249.54 L407.17,249.55 L408.67,249.57 L410.17,249.58 L411.67,249.59 L413.17,249.60 L414.67,249.61 L416.17,249.62 L417.67,249.63 L419.17,249.64 L420.67,249.65 L422.17,249.66 L423.67,249.67 L425.17,249.68 L426.67,249.69 L428.17,249.70 L429.67,249.71 L431.17,249.72 L432.67,249.72 L434.17,249.73 L435.67,249.74 L437.17,249.75 L438.67,249.75 L440.17,249.76 L441.67,249.76 L443.17,249.77 L444.67,249.77 L446.16,249.78 L447.66,249.78 L449.16,249.79 L450.66,249.79 L452.16,249.79 L453.66,249.79 L455.16,249.80 L456.66,249.80 L458.16,249.80 L459.66,249.80 L461.16,249.80 L462.66,249.80 L464.16,249.80 L465.66,249.80 L467.16,249.80 L468.66,249.80 L470.16,249.80 L471.66,249.80 L472.66,249.80 L473.66,249.80 L474.66,249.80 L475.66,249.80 L476.66,249.80 L477.66,249.80 L478.66,249.80 L479.66,249.80 L480.66,249.80 L481.66,249.80 L482.66,249.80 L483.66,249.80 L484.66,249.80 L485.66,249.80 L486.66,249.80 L487.66,249.80 L488.66,249.80 L489.66,249.80 L490.66,249.80 L491.66,249.80 L492.66,249.80 L493.66,249.80 L494.66,249.80 L495.66,249.80 L496.66,249.80 L497.66,249.80 L498.66,249.80 L499.66,249.80 L500.66,249.80 L501.66,249.80 L502.66,249.80 L503.66,249.80 L504.66,249.80 L505.66,249.80 L506.66,249.80 L507.66,249.80 L508.66,249.80 L509.66,249.80 L510.66,249.80 L511.66,249.80 L512.66,249.80 L513.66,249.80 L514.66,249.80 L515.66,249.80 L516.66,249.80 L517.66,249.80 L518.66,249.80 L519.66,249.80 L520.66,249.80 L521.66,249.80 L523.16,249.80 L524.16,249.80 L525.16,249.80 L526.16,249.80 L527.16,249.80 L528.66,249.80 L529.66,249.80 L530.66,249.80 L531.66,249.80 L532.66,249.80 L533.66,249.80 L534.66,249.80 L536.16,249.80 L537.66,249.80 L539.16,249.80 L540.16,249.80 L541.16,249.80 L542.16,249.80 L543.16,249.80 L544.66,249.80 L545.66,249.80 L546.66,249.80 L547.66,249.80 L549.16,249.80 L550.66,249.80 L551.66,249.80 L553.16,249.80 L554.16,249.80 L555.16,249.80 L556.16,249.80 L557.16,249.80 L558.16,249.80 L559.16,249.80 L560.66,249.80 L562.16,249.80 L563.66,249.80 L564.66,249.80 L565.66,249.80 L566.66,249.80 L568.16,249.80 L569.66,249.80 L570.66,249.80 L571.66,249.80 L572.66,249.80 L573.66,249.80 L575.16,249.80 L576.16,249.80 L577.16,249.80 L578.66,249.80 L580.16,249.80 L581.16,249.80 L582.16,249.80 L583.16,249.80 L584.66,249.80 L585.66,249.80 L586.66,249.80 L588.16,249.80 L589.16,249.80 L590.66,249.80 L592.16,249.80 L593.16,249.80 L594.66,249.80 L596.16,249.80 L597.16,249.80 L598.66,249.80 L599.66,249.80 L600.66,249.80 L601.66,249.80 L602.66,249.80 L603.66,249.80 L605.16,249.80 L606.66,249.80 L607.66,249.80 L608.66,249.80 L610.16,249.80 L611.16,249.80 L612.16,249.80 L613.66,249.80 L614.66,249.80 L615.66,249.80 L617.16,249.80 L618.16,249.80 L619.16,249.80 L620.66,249.80 L622.16,249.80 L623.16,249.80 L624.16,249.80 L625.66,249.80 L627.16,249.80 L628.66,249.80 L630.16,249.80 L631.16,249.80 L631.16,249.80" fill="none" stroke="#0000ff" stroke-width="2.0" stroke-linejoin="round"/>
</g>
<path d="M46.60,355.6v2.5 M119.78,355.6v2.5 M192.95,355.6v2.5 M266.12,355.6v2.5 M339.30,355.6v2.5 M412.48,355.6v2.5 M485.65,355.6v2.5 M558.83,355.6v2.5 M632.00,355.6v2.5" stroke="#000" stroke-width="1.3"/>
<path d="M45.6,307.57h-2.7 M45.6,240.37h-2.7 M45.6,173.18h-2.7 M45.6,105.99h-2.7 M45.6,38.80h-2.7" stroke="#ff0000" stroke-width="1.3"/>
<path d="M633.0,354.60h2.7 M633.0,284.72h2.7 M633.0,214.84h2.7 M633.0,144.96h2.7 M633.0,75.08h2.7 M633.0,5.20h2.7" stroke="#0000ff" stroke-width="1.3"/>
<g font-family="Liberation Serif" font-size="16.4"><text transform="translate(46.60,373.00) scale(0.91,1)" text-anchor="middle" fill="#000">0</text><text transform="translate(119.78,373.00) scale(0.91,1)" text-anchor="middle" fill="#000">5</text><text transform="translate(192.95,373.00) scale(0.91,1)" text-anchor="middle" fill="#000">10</text><text transform="translate(266.12,373.00) scale(0.91,1)" text-anchor="middle" fill="#000">15</text><text transform="translate(339.30,373.00) scale(0.91,1)" text-anchor="middle" fill="#000">20</text><text transform="translate(412.48,373.00) scale(0.91,1)" text-anchor="middle" fill="#000">25</text><text transform="translate(485.65,373.00) scale(0.91,1)" text-anchor="middle" fill="#000">30</text><text transform="translate(558.83,373.00) scale(0.91,1)" text-anchor="middle" fill="#000">35</text><text transform="translate(632.00,373.00) scale(0.91,1)" text-anchor="middle" fill="#000">40</text><text transform="translate(38.70,313.27) scale(0.91,1)" text-anchor="end" fill="#ff0000">0.4</text><text transform="translate(38.70,246.07) scale(0.91,1)" text-anchor="end" fill="#ff0000">0.5</text><text transform="translate(38.70,178.88) scale(0.91,1)" text-anchor="end" fill="#ff0000">0.6</text><text transform="translate(38.70,111.69) scale(0.91,1)" text-anchor="end" fill="#ff0000">0.7</text><text transform="translate(38.70,44.50) scale(0.91,1)" text-anchor="end" fill="#ff0000">0.8</text><text transform="translate(638.60,360.30) scale(0.91,1)" text-anchor="start" fill="#0000ff">0.00</text><text transform="translate(638.60,290.42) scale(0.91,1)" text-anchor="start" fill="#0000ff">0.05</text><text transform="translate(638.60,220.54) scale(0.91,1)" text-anchor="start" fill="#0000ff">0.10</text><text transform="translate(638.60,150.66) scale(0.91,1)" text-anchor="start" fill="#0000ff">0.15</text><text transform="translate(638.60,80.78) scale(0.91,1)" text-anchor="start" fill="#0000ff">0.20</text><text transform="translate(638.60,10.90) scale(0.91,1)" text-anchor="start" fill="#0000ff">0.25</text></g>
<g font-family="Liberation Serif" font-size="18.5">
<text x="339" y="392.4" text-anchor="middle"><tspan font-style="italic">t</tspan> [s]</text>
<text transform="translate(13.2,178.9) rotate(-90)" text-anchor="middle" fill="#ff0000" font-size="18.5"><tspan font-style="italic">A</tspan><tspan font-size="13.7" dy="2.8">11</tspan></text>
<text transform="translate(683.1,178.6) rotate(-90)" text-anchor="middle" fill="#0000ff" font-size="18.5"><tspan font-style="italic">A</tspan><tspan font-size="13.7" dy="2.8">12</tspan></text>
</g>
<rect x="526.7" y="247.7" width="98.0" height="99.7" rx="3" ry="3" fill="#fff" fill-opacity="0.8" stroke="#d9d9d9" stroke-width="1"/>
<path d="M530.3,258.3H560.8" stroke="#000" stroke-width="2.2"/>
<path d="M542.55,274.50l6.00,6.00M542.55,280.50l6.00,-6.00" stroke="#000" stroke-width="1.2" fill="none"/>
<path d="M542.55,296.90a3.0,3.0 0 1,0 6.00,0a3.0,3.0 0 1,0 -6.00,0" stroke="#000" stroke-width="1.4" fill="none"/>
<path d="M542.55,316.10h6.00M545.55,313.10v6.00" stroke="#000" stroke-width="1.3" fill="none"/>
<path d="M531.5,335.2H560.8" stroke="#000" stroke-width="2.3" stroke-dasharray="5.6,2.2"/>
<g font-family="Liberation Serif" font-size="14"><text x="570.5" y="263.20">ODF</text><text x="570.5" y="282.40">IBOF</text><text x="570.5" y="301.80">ORE</text><text x="570.5" y="321.00">NNORT</text><text x="570.5" y="340.10">UODE</text></g>
</svg>
</body></html>
